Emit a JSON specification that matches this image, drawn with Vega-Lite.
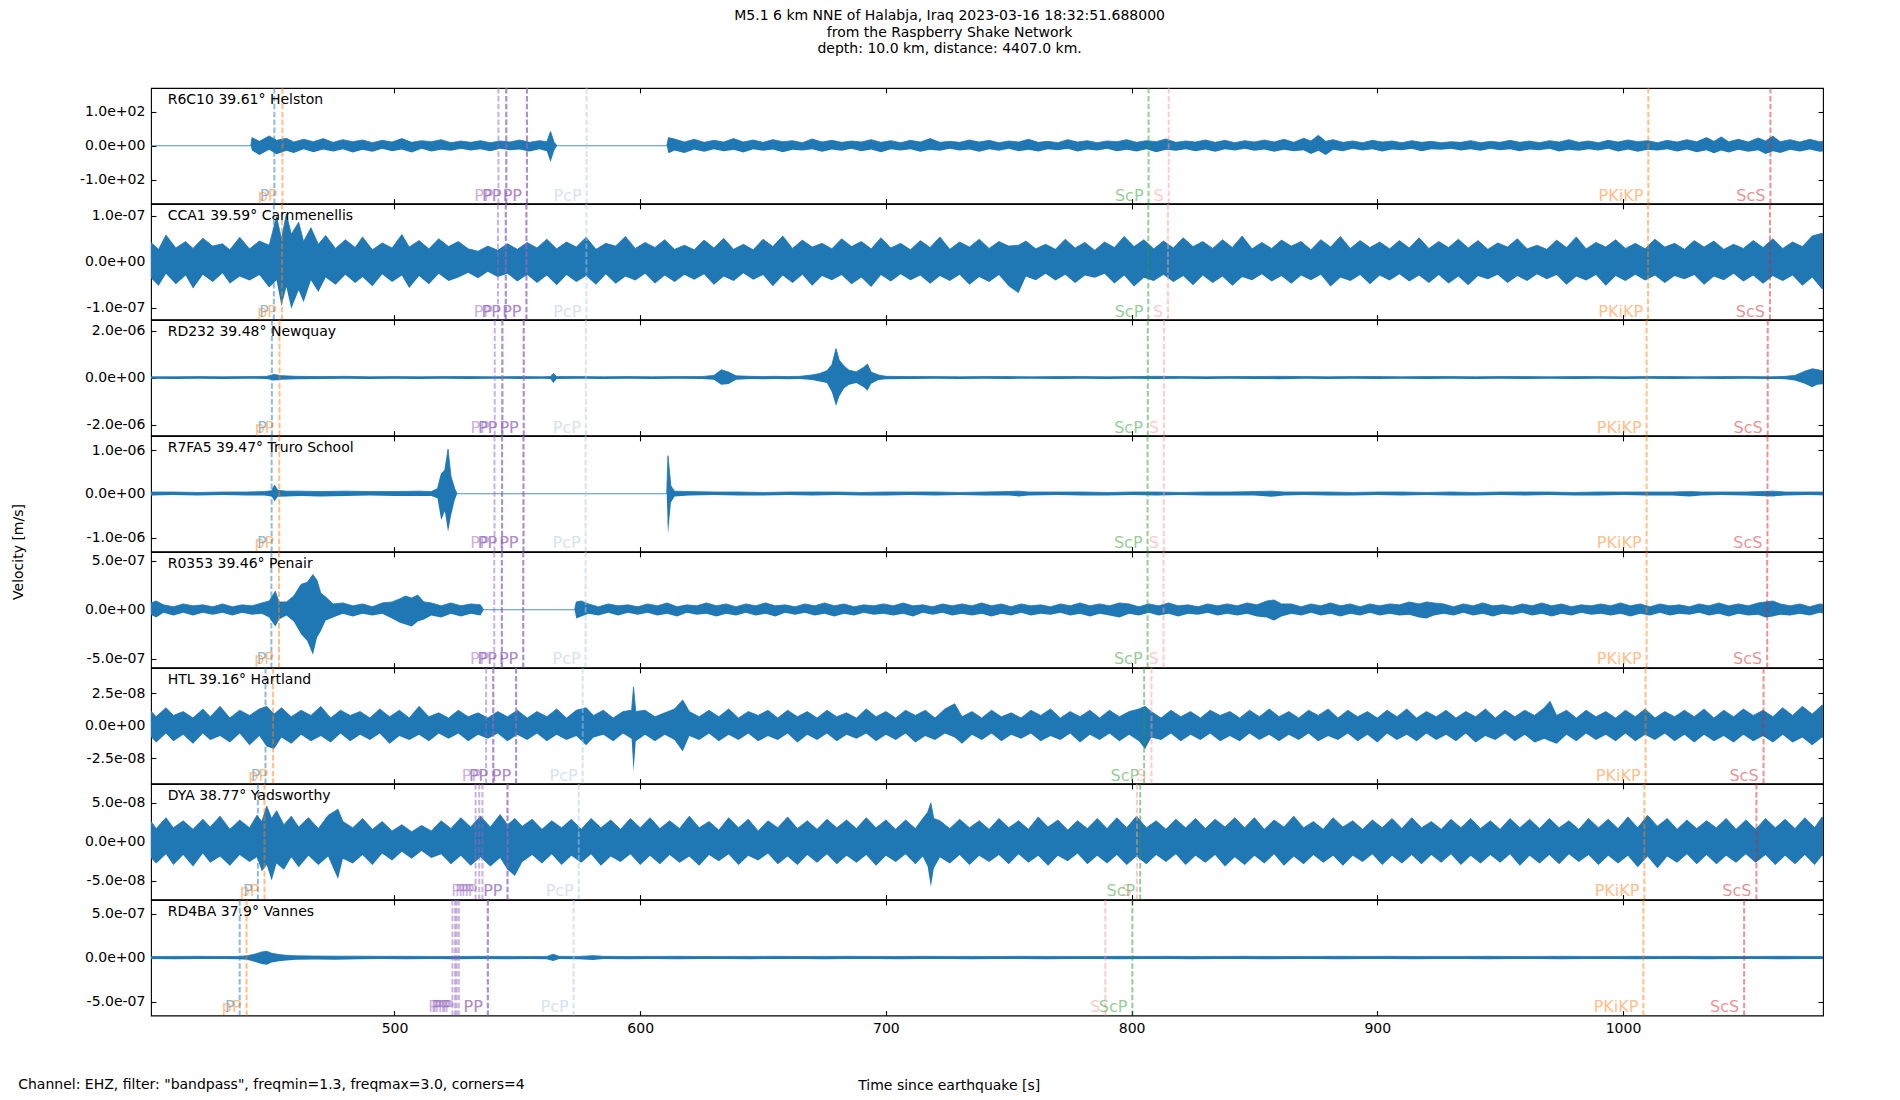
{
  "$schema": "https://vega.github.io/schema/vega-lite/v6.json",
  "padding": {"left": 11, "top": 9, "right": 5, "bottom": 5},
  "config": {
    "font": "DejaVu Sans",
    "view": {"stroke": "black", "strokeWidth": 1.1},
    "axis": {"domain": false, "grid": false, "ticks": true, "tickSize": -4.9, "tickWidth": 1.1, "tickColor": "black", "labelFontSize": 14, "labelColor": "black", "titleFontSize": 14, "titleFontWeight": "normal", "titleColor": "black"},
    "axisX": {"labelPadding": 10.5},
    "axisY": {"labelPadding": 11},
    "title": {"fontSize": 14, "fontWeight": "normal", "color": "black"}
  },
  "title": {
    "text": ["M5.1 6 km NNE of Halabja, Iraq 2023-03-16 18:32:51.688000", "from the Raspberry Shake Network", "depth: 10.0 km, distance: 4407.0 km."],
    "anchor": "middle", "lineHeight": 16.5, "offset": 30, "dx": 32
  },
  "datasets": {
    "ph": [
      {"st":"R6C10","ph":"P","t":451.1},{"st":"R6C10","ph":"pP","t":454.4},{"st":"R6C10","ph":"PP","t":542.3},{"st":"R6C10","ph":"PP","t":545.5},{"st":"R6C10","ph":"PP","t":545.5},{"st":"R6C10","ph":"PP","t":553.9},{"st":"R6C10","ph":"PP","t":553.9},{"st":"R6C10","ph":"PcP","t":578.2},{"st":"R6C10","ph":"ScP","t":806.9},{"st":"R6C10","ph":"S","t":815.1},{"st":"R6C10","ph":"PKiKP","t":1010.3},{"st":"R6C10","ph":"ScS","t":1060.0},
      {"st":"CCA1","ph":"P","t":450.9},{"st":"CCA1","ph":"pP","t":454.2},{"st":"CCA1","ph":"PP","t":542.1},{"st":"CCA1","ph":"PP","t":545.3},{"st":"CCA1","ph":"PP","t":545.3},{"st":"CCA1","ph":"PP","t":553.7},{"st":"CCA1","ph":"PP","t":553.7},{"st":"CCA1","ph":"PcP","t":578.1},{"st":"CCA1","ph":"ScP","t":806.8},{"st":"CCA1","ph":"S","t":814.8},{"st":"CCA1","ph":"PKiKP","t":1010.2},{"st":"CCA1","ph":"ScS","t":1059.8},
      {"st":"RD232","ph":"P","t":450.1},{"st":"RD232","ph":"pP","t":453.2},{"st":"RD232","ph":"PP","t":540.8},{"st":"RD232","ph":"PP","t":543.9},{"st":"RD232","ph":"PP","t":543.9},{"st":"RD232","ph":"PP","t":552.6},{"st":"RD232","ph":"PP","t":552.6},{"st":"RD232","ph":"PcP","t":577.9},{"st":"RD232","ph":"ScP","t":806.6},{"st":"RD232","ph":"S","t":813.2},{"st":"RD232","ph":"PKiKP","t":1009.6},{"st":"RD232","ph":"ScS","t":1058.9},
      {"st":"R7FA5","ph":"P","t":450.0},{"st":"R7FA5","ph":"pP","t":453.1},{"st":"R7FA5","ph":"PP","t":540.7},{"st":"R7FA5","ph":"PP","t":543.8},{"st":"R7FA5","ph":"PP","t":543.8},{"st":"R7FA5","ph":"PP","t":552.5},{"st":"R7FA5","ph":"PP","t":552.5},{"st":"R7FA5","ph":"PcP","t":577.8},{"st":"R7FA5","ph":"ScP","t":806.5},{"st":"R7FA5","ph":"S","t":813.1},{"st":"R7FA5","ph":"PKiKP","t":1009.6},{"st":"R7FA5","ph":"ScS","t":1058.8},
      {"st":"R0353","ph":"P","t":449.9},{"st":"R0353","ph":"pP","t":453.0},{"st":"R0353","ph":"PP","t":540.6},{"st":"R0353","ph":"PP","t":543.7},{"st":"R0353","ph":"PP","t":543.7},{"st":"R0353","ph":"PP","t":552.4},{"st":"R0353","ph":"PP","t":552.4},{"st":"R0353","ph":"PcP","t":577.8},{"st":"R0353","ph":"ScP","t":806.5},{"st":"R0353","ph":"S","t":813.0},{"st":"R0353","ph":"PKiKP","t":1009.6},{"st":"R0353","ph":"ScS","t":1058.7},
      {"st":"HTL","ph":"P","t":447.5},{"st":"HTL","ph":"pP","t":450.6},{"st":"HTL","ph":"PP","t":537.3},{"st":"HTL","ph":"PP","t":540.2},{"st":"HTL","ph":"PP","t":540.2},{"st":"HTL","ph":"PP","t":549.5},{"st":"HTL","ph":"PP","t":549.5},{"st":"HTL","ph":"PcP","t":576.6},{"st":"HTL","ph":"ScP","t":805.1},{"st":"HTL","ph":"S","t":808.1},{"st":"HTL","ph":"PKiKP","t":1009.2},{"st":"HTL","ph":"ScS","t":1057.2},
      {"st":"DYA","ph":"P","t":444.4},{"st":"DYA","ph":"pP","t":447.1},{"st":"DYA","ph":"PP","t":533.0},{"st":"DYA","ph":"PP","t":534.5},{"st":"DYA","ph":"PP","t":535.8},{"st":"DYA","ph":"PP","t":546.0},{"st":"DYA","ph":"PP","t":546.0},{"st":"DYA","ph":"PcP","t":575.0},{"st":"DYA","ph":"S","t":802.2},{"st":"DYA","ph":"ScP","t":803.5},{"st":"DYA","ph":"PKiKP","t":1008.7},{"st":"DYA","ph":"ScS","t":1054.3},
      {"st":"RD4BA","ph":"P","t":437.0},{"st":"RD4BA","ph":"pP","t":439.8},{"st":"RD4BA","ph":"PP","t":523.6},{"st":"RD4BA","ph":"PP","t":524.7},{"st":"RD4BA","ph":"PP","t":525.3},{"st":"RD4BA","ph":"PP","t":526.2},{"st":"RD4BA","ph":"PP","t":538.0},{"st":"RD4BA","ph":"PP","t":538.0},{"st":"RD4BA","ph":"PcP","t":572.9},{"st":"RD4BA","ph":"S","t":789.3},{"st":"RD4BA","ph":"ScP","t":800.3},{"st":"RD4BA","ph":"PKiKP","t":1008.3},{"st":"RD4BA","ph":"ScS","t":1049.3}
    ],
    "w1": [
      {"t":400,"l":0,"h":0},{"t":441.5,"l":0,"h":0},{"t":442,"l":-14,"h":24},{"t":445,"l":-27,"h":13},{"t":449,"l":-12,"h":29},{"t":452,"l":-25,"h":16},{"t":456,"l":-15,"h":22},{"t":459,"l":-21,"h":11},{"t":463,"l":-10,"h":19},{"t":467,"l":-19,"h":12},{"t":471,"l":-11,"h":21},{"t":475,"l":-17,"h":10},{"t":479,"l":-10,"h":18},{"t":483,"l":-20,"h":12},{"t":487,"l":-12,"h":17},{"t":491,"l":-18,"h":9},{"t":495,"l":-9,"h":16},{"t":499,"l":-16,"h":11},{"t":503,"l":-11,"h":21},{"t":507,"l":-20,"h":10},{"t":511,"l":-9,"h":15},{"t":515,"l":-17,"h":12},{"t":519,"l":-12,"h":18},{"t":523,"l":-15,"h":9},{"t":527,"l":-9,"h":14},{"t":531,"l":-14,"h":10},{"t":535,"l":-10,"h":15},{"t":539,"l":-16,"h":9},{"t":543,"l":-9,"h":14},{"t":547,"l":-13,"h":11},{"t":551,"l":-11,"h":17},{"t":555,"l":-17,"h":10},{"t":559,"l":-10,"h":15},{"t":562,"l":-16,"h":12},{"t":563.5,"l":-48,"h":42},{"t":565,"l":-14,"h":10},{"t":566.2,"l":0,"h":0},{"t":610.8,"l":0,"h":0},{"t":611.5,"l":-22,"h":24},{"t":614,"l":-14,"h":20},{"t":618,"l":-21,"h":11},{"t":622,"l":-11,"h":19},{"t":626,"l":-18,"h":10},{"t":630,"l":-10,"h":16},{"t":634,"l":-16,"h":11},{"t":638,"l":-12,"h":21},{"t":642,"l":-20,"h":11},{"t":646,"l":-10,"h":17},{"t":650,"l":-15,"h":10},{"t":654,"l":-11,"h":18},{"t":658,"l":-19,"h":12},{"t":662,"l":-12,"h":15},{"t":666,"l":-14,"h":9},{"t":670,"l":-10,"h":20},{"t":674,"l":-18,"h":11},{"t":678,"l":-11,"h":16},{"t":682,"l":-15,"h":10},{"t":686,"l":-9,"h":14},{"t":690,"l":-16,"h":11},{"t":694,"l":-11,"h":18},{"t":698,"l":-19,"h":10},{"t":702,"l":-10,"h":15},{"t":706,"l":-14,"h":9},{"t":710,"l":-10,"h":16},{"t":714,"l":-18,"h":11},{"t":718,"l":-12,"h":21},{"t":722,"l":-15,"h":10},{"t":726,"l":-9,"h":13},{"t":730,"l":-14,"h":10},{"t":734,"l":-11,"h":17},{"t":738,"l":-18,"h":11},{"t":742,"l":-10,"h":16},{"t":746,"l":-15,"h":9},{"t":750,"l":-9,"h":14},{"t":754,"l":-16,"h":11},{"t":758,"l":-12,"h":19},{"t":762,"l":-17,"h":10},{"t":766,"l":-10,"h":13},{"t":770,"l":-13,"h":9},{"t":774,"l":-9,"h":18},{"t":778,"l":-17,"h":11},{"t":782,"l":-11,"h":15},{"t":786,"l":-14,"h":9},{"t":790,"l":-9,"h":14},{"t":794,"l":-16,"h":12},{"t":798,"l":-12,"h":18},{"t":802,"l":-17,"h":10},{"t":806,"l":-10,"h":15},{"t":810,"l":-19,"h":12},{"t":814,"l":-12,"h":20},{"t":818,"l":-15,"h":10},{"t":822,"l":-10,"h":14},{"t":826,"l":-16,"h":11},{"t":830,"l":-11,"h":17},{"t":834,"l":-18,"h":10},{"t":838,"l":-10,"h":16},{"t":842,"l":-14,"h":9},{"t":846,"l":-9,"h":15},{"t":850,"l":-15,"h":11},{"t":854,"l":-11,"h":17},{"t":858,"l":-18,"h":11},{"t":862,"l":-12,"h":19},{"t":866,"l":-16,"h":10},{"t":870,"l":-13,"h":22},{"t":873,"l":-24,"h":14},{"t":876,"l":-15,"h":31},{"t":879,"l":-27,"h":13},{"t":882,"l":-12,"h":18},{"t":886,"l":-16,"h":10},{"t":890,"l":-9,"h":14},{"t":894,"l":-14,"h":9},{"t":898,"l":-10,"h":16},{"t":902,"l":-17,"h":11},{"t":906,"l":-11,"h":14},{"t":910,"l":-13,"h":9},{"t":914,"l":-9,"h":15},{"t":918,"l":-16,"h":10},{"t":922,"l":-10,"h":13},{"t":926,"l":-12,"h":9},{"t":930,"l":-9,"h":12},{"t":934,"l":-14,"h":10},{"t":938,"l":-10,"h":15},{"t":942,"l":-15,"h":9},{"t":946,"l":-9,"h":13},{"t":950,"l":-13,"h":10},{"t":954,"l":-10,"h":16},{"t":958,"l":-16,"h":10},{"t":962,"l":-11,"h":14},{"t":966,"l":-13,"h":9},{"t":970,"l":-9,"h":15},{"t":974,"l":-17,"h":11},{"t":978,"l":-12,"h":18},{"t":982,"l":-15,"h":10},{"t":986,"l":-10,"h":14},{"t":990,"l":-14,"h":9},{"t":994,"l":-9,"h":16},{"t":998,"l":-17,"h":11},{"t":1002,"l":-11,"h":17},{"t":1006,"l":-18,"h":12},{"t":1010,"l":-12,"h":15},{"t":1014,"l":-14,"h":9},{"t":1018,"l":-10,"h":16},{"t":1022,"l":-17,"h":11},{"t":1026,"l":-11,"h":18},{"t":1030,"l":-19,"h":12},{"t":1034,"l":-13,"h":24},{"t":1037,"l":-22,"h":13},{"t":1040,"l":-14,"h":26},{"t":1043,"l":-20,"h":12},{"t":1047,"l":-12,"h":19},{"t":1051,"l":-18,"h":11},{"t":1055,"l":-13,"h":23},{"t":1058,"l":-24,"h":14},{"t":1061,"l":-16,"h":28},{"t":1064,"l":-21,"h":12},{"t":1068,"l":-12,"h":18},{"t":1072,"l":-17,"h":11},{"t":1076,"l":-11,"h":19},{"t":1080,"l":-18,"h":12},{"t":1085,"l":-13,"h":17}
    ],
    "w2": [
      {"t":400,"l":-3.1e-8,"h":4.6e-8},{"t":404,"l":-5.2e-8,"h":2.7e-8},{"t":407,"l":-2.6e-8,"h":5.8e-8},{"t":411,"l":-4.9e-8,"h":3.0e-8},{"t":415,"l":-3.0e-8,"h":4.4e-8},{"t":418,"l":-5.8e-8,"h":2.9e-8},{"t":422,"l":-2.8e-8,"h":5.1e-8},{"t":426,"l":-4.4e-8,"h":3.4e-8},{"t":430,"l":-2.5e-8,"h":3.9e-8},{"t":433,"l":-4.7e-8,"h":2.6e-8},{"t":437,"l":-3.2e-8,"h":5.3e-8},{"t":441,"l":-4.1e-8,"h":2.8e-8},{"t":445,"l":-2.9e-8,"h":4.5e-8},{"t":449,"l":-5.6e-8,"h":3.6e-8},{"t":452,"l":-4.0e-8,"h":9.8e-8},{"t":454,"l":-9.6e-8,"h":5.0e-8},{"t":456,"l":-5.5e-8,"h":10.4e-8},{"t":458,"l":-10.2e-8,"h":6.0e-8},{"t":461,"l":-6.2e-8,"h":8.6e-8},{"t":463,"l":-8.8e-8,"h":4.4e-8},{"t":466,"l":-4.0e-8,"h":7.4e-8},{"t":469,"l":-6.6e-8,"h":3.8e-8},{"t":472,"l":-3.4e-8,"h":5.7e-8},{"t":476,"l":-5.0e-8,"h":2.9e-8},{"t":480,"l":-2.8e-8,"h":4.8e-8},{"t":484,"l":-4.6e-8,"h":3.1e-8},{"t":487,"l":-3.3e-8,"h":5.4e-8},{"t":491,"l":-5.3e-8,"h":2.6e-8},{"t":495,"l":-2.7e-8,"h":4.1e-8},{"t":499,"l":-4.4e-8,"h":3.0e-8},{"t":503,"l":-3.0e-8,"h":5.9e-8},{"t":506,"l":-5.7e-8,"h":3.2e-8},{"t":510,"l":-3.1e-8,"h":4.6e-8},{"t":514,"l":-4.9e-8,"h":2.8e-8},{"t":518,"l":-2.6e-8,"h":5.0e-8},{"t":522,"l":-4.2e-8,"h":3.3e-8},{"t":526,"l":-3.4e-8,"h":4.4e-8},{"t":530,"l":-2.4e-8,"h":2.8e-8},{"t":534,"l":-3.6e-8,"h":2.3e-8},{"t":538,"l":-2.2e-8,"h":3.4e-8},{"t":542,"l":-3.3e-8,"h":2.5e-8},{"t":546,"l":-2.6e-8,"h":3.9e-8},{"t":550,"l":-4.3e-8,"h":2.7e-8},{"t":554,"l":-2.8e-8,"h":4.2e-8},{"t":558,"l":-4.6e-8,"h":3.0e-8},{"t":562,"l":-3.0e-8,"h":4.9e-8},{"t":566,"l":-5.1e-8,"h":2.8e-8},{"t":570,"l":-2.9e-8,"h":4.3e-8},{"t":574,"l":-4.4e-8,"h":3.2e-8},{"t":578,"l":-3.1e-8,"h":5.3e-8},{"t":582,"l":-5.0e-8,"h":2.7e-8},{"t":586,"l":-2.7e-8,"h":4.0e-8},{"t":590,"l":-4.8e-8,"h":3.4e-8},{"t":594,"l":-3.2e-8,"h":5.5e-8},{"t":598,"l":-4.1e-8,"h":2.9e-8},{"t":602,"l":-2.6e-8,"h":4.2e-8},{"t":606,"l":-4.7e-8,"h":3.1e-8},{"t":610,"l":-3.0e-8,"h":4.8e-8},{"t":614,"l":-4.4e-8,"h":2.7e-8},{"t":618,"l":-2.8e-8,"h":3.6e-8},{"t":622,"l":-3.9e-8,"h":2.6e-8},{"t":626,"l":-2.7e-8,"h":4.7e-8},{"t":630,"l":-5.0e-8,"h":3.0e-8},{"t":634,"l":-3.2e-8,"h":5.1e-8},{"t":638,"l":-4.2e-8,"h":2.7e-8},{"t":642,"l":-2.5e-8,"h":3.8e-8},{"t":646,"l":-3.9e-8,"h":2.6e-8},{"t":650,"l":-2.9e-8,"h":4.9e-8},{"t":654,"l":-5.3e-8,"h":3.3e-8},{"t":658,"l":-3.0e-8,"h":5.6e-8},{"t":662,"l":-4.6e-8,"h":2.9e-8},{"t":666,"l":-2.8e-8,"h":4.7e-8},{"t":670,"l":-5.2e-8,"h":3.2e-8},{"t":674,"l":-3.1e-8,"h":4.0e-8},{"t":678,"l":-4.0e-8,"h":2.8e-8},{"t":682,"l":-2.9e-8,"h":5.0e-8},{"t":686,"l":-4.9e-8,"h":3.3e-8},{"t":690,"l":-3.4e-8,"h":4.4e-8},{"t":694,"l":-5.5e-8,"h":2.8e-8},{"t":698,"l":-2.9e-8,"h":5.2e-8},{"t":702,"l":-4.3e-8,"h":3.0e-8},{"t":706,"l":-2.7e-8,"h":4.0e-8},{"t":710,"l":-4.0e-8,"h":2.6e-8},{"t":714,"l":-3.0e-8,"h":4.6e-8},{"t":718,"l":-4.8e-8,"h":3.1e-8},{"t":722,"l":-3.1e-8,"h":5.4e-8},{"t":726,"l":-4.2e-8,"h":2.7e-8},{"t":730,"l":-2.8e-8,"h":4.3e-8},{"t":734,"l":-5.0e-8,"h":3.2e-8},{"t":738,"l":-3.3e-8,"h":4.9e-8},{"t":742,"l":-4.4e-8,"h":2.9e-8},{"t":746,"l":-2.9e-8,"h":4.4e-8},{"t":750,"l":-5.3e-8,"h":3.4e-8},{"t":754,"l":-6.8e-8,"h":3.6e-8},{"t":757,"l":-3.2e-8,"h":4.5e-8},{"t":761,"l":-4.0e-8,"h":2.8e-8},{"t":765,"l":-2.6e-8,"h":3.8e-8},{"t":769,"l":-4.1e-8,"h":2.7e-8},{"t":773,"l":-2.8e-8,"h":4.9e-8},{"t":777,"l":-4.6e-8,"h":3.0e-8},{"t":781,"l":-3.0e-8,"h":4.2e-8},{"t":785,"l":-3.5e-8,"h":2.5e-8},{"t":789,"l":-2.6e-8,"h":4.3e-8},{"t":793,"l":-4.7e-8,"h":3.1e-8},{"t":797,"l":-3.0e-8,"h":5.5e-8},{"t":801,"l":-5.4e-8,"h":3.3e-8},{"t":805,"l":-3.5e-8,"h":4.8e-8},{"t":809,"l":-4.2e-8,"h":2.8e-8},{"t":813,"l":-2.8e-8,"h":4.5e-8},{"t":817,"l":-4.4e-8,"h":3.0e-8},{"t":821,"l":-3.1e-8,"h":5.2e-8},{"t":825,"l":-5.1e-8,"h":3.3e-8},{"t":829,"l":-3.0e-8,"h":4.4e-8},{"t":833,"l":-4.6e-8,"h":2.9e-8},{"t":837,"l":-3.2e-8,"h":4.8e-8},{"t":841,"l":-5.2e-8,"h":3.1e-8},{"t":845,"l":-3.3e-8,"h":5.6e-8},{"t":849,"l":-4.0e-8,"h":2.8e-8},{"t":853,"l":-2.7e-8,"h":4.2e-8},{"t":857,"l":-4.3e-8,"h":2.9e-8},{"t":861,"l":-3.1e-8,"h":4.7e-8},{"t":865,"l":-4.8e-8,"h":3.4e-8},{"t":869,"l":-3.0e-8,"h":4.4e-8},{"t":873,"l":-4.0e-8,"h":2.6e-8},{"t":877,"l":-2.8e-8,"h":4.8e-8},{"t":881,"l":-5.4e-8,"h":3.2e-8},{"t":885,"l":-3.4e-8,"h":5.5e-8},{"t":889,"l":-4.2e-8,"h":2.9e-8},{"t":893,"l":-2.9e-8,"h":4.6e-8},{"t":897,"l":-4.9e-8,"h":3.1e-8},{"t":901,"l":-3.0e-8,"h":4.3e-8},{"t":905,"l":-4.1e-8,"h":2.8e-8},{"t":909,"l":-2.7e-8,"h":4.6e-8},{"t":913,"l":-4.3e-8,"h":3.0e-8},{"t":917,"l":-3.0e-8,"h":5.2e-8},{"t":921,"l":-4.6e-8,"h":2.9e-8},{"t":925,"l":-2.9e-8,"h":4.4e-8},{"t":929,"l":-4.7e-8,"h":3.1e-8},{"t":933,"l":-3.2e-8,"h":4.9e-8},{"t":937,"l":-5.1e-8,"h":3.0e-8},{"t":941,"l":-3.1e-8,"h":4.6e-8},{"t":945,"l":-3.8e-8,"h":2.7e-8},{"t":949,"l":-2.8e-8,"h":4.1e-8},{"t":953,"l":-4.6e-8,"h":3.2e-8},{"t":957,"l":-3.1e-8,"h":5.0e-8},{"t":961,"l":-4.2e-8,"h":2.8e-8},{"t":965,"l":-2.7e-8,"h":3.6e-8},{"t":969,"l":-3.8e-8,"h":2.7e-8},{"t":973,"l":-2.9e-8,"h":4.7e-8},{"t":977,"l":-5.0e-8,"h":3.1e-8},{"t":981,"l":-3.2e-8,"h":5.4e-8},{"t":985,"l":-4.1e-8,"h":2.8e-8},{"t":989,"l":-2.9e-8,"h":4.2e-8},{"t":993,"l":-5.2e-8,"h":3.2e-8},{"t":997,"l":-3.1e-8,"h":4.8e-8},{"t":1001,"l":-4.2e-8,"h":2.9e-8},{"t":1005,"l":-2.8e-8,"h":4.0e-8},{"t":1009,"l":-4.1e-8,"h":2.8e-8},{"t":1013,"l":-3.0e-8,"h":4.9e-8},{"t":1017,"l":-4.6e-8,"h":3.2e-8},{"t":1021,"l":-3.1e-8,"h":4.0e-8},{"t":1025,"l":-3.8e-8,"h":2.7e-8},{"t":1029,"l":-2.9e-8,"h":4.6e-8},{"t":1033,"l":-5.0e-8,"h":3.2e-8},{"t":1037,"l":-3.2e-8,"h":4.5e-8},{"t":1041,"l":-4.0e-8,"h":2.7e-8},{"t":1045,"l":-2.6e-8,"h":3.8e-8},{"t":1049,"l":-4.3e-8,"h":2.9e-8},{"t":1053,"l":-3.0e-8,"h":4.6e-8},{"t":1057,"l":-4.8e-8,"h":3.1e-8},{"t":1061,"l":-3.1e-8,"h":5.0e-8},{"t":1065,"l":-4.2e-8,"h":2.9e-8},{"t":1069,"l":-3.0e-8,"h":4.3e-8},{"t":1073,"l":-5.2e-8,"h":3.3e-8},{"t":1077,"l":-3.4e-8,"h":5.6e-8},{"t":1081,"l":-6.0e-8,"h":6.2e-8},{"t":1085,"l":-4.0e-8,"h":4.5e-8}
    ],
    "w3": [
      {"t":400,"l":-4e-8,"h":4e-8},{"t":410,"l":-5e-8,"h":4e-8},{"t":420,"l":-4e-8,"h":5e-8},{"t":430,"l":-5e-8,"h":4e-8},{"t":440,"l":-4e-8,"h":5e-8},{"t":448,"l":-5e-8,"h":6e-8},{"t":451,"l":-12e-8,"h":14e-8},{"t":454,"l":-8e-8,"h":9e-8},{"t":460,"l":-6e-8,"h":6e-8},{"t":470,"l":-5e-8,"h":5e-8},{"t":480,"l":-4e-8,"h":6e-8},{"t":490,"l":-5e-8,"h":4e-8},{"t":500,"l":-4e-8,"h":5e-8},{"t":510,"l":-5e-8,"h":4e-8},{"t":520,"l":-4e-8,"h":5e-8},{"t":530,"l":-5e-8,"h":5e-8},{"t":540,"l":-4e-8,"h":4e-8},{"t":550,"l":-5e-8,"h":5e-8},{"t":560,"l":-4e-8,"h":4e-8},{"t":563.5,"l":-5e-8,"h":5e-8},{"t":564.6,"l":-22e-8,"h":18e-8},{"t":566,"l":-5e-8,"h":5e-8},{"t":575,"l":-4e-8,"h":5e-8},{"t":585,"l":-5e-8,"h":4e-8},{"t":595,"l":-4e-8,"h":5e-8},{"t":605,"l":-5e-8,"h":4e-8},{"t":615,"l":-4e-8,"h":5e-8},{"t":625,"l":-5e-8,"h":5e-8},{"t":630,"l":-8e-8,"h":10e-8},{"t":633,"l":-30e-8,"h":34e-8},{"t":636,"l":-26e-8,"h":24e-8},{"t":639,"l":-8e-8,"h":8e-8},{"t":645,"l":-5e-8,"h":6e-8},{"t":650,"l":-6e-8,"h":5e-8},{"t":655,"l":-5e-8,"h":6e-8},{"t":660,"l":-6e-8,"h":5e-8},{"t":665,"l":-5e-8,"h":6e-8},{"t":670,"l":-10e-8,"h":12e-8},{"t":673,"l":-16e-8,"h":18e-8},{"t":676,"l":-22e-8,"h":30e-8},{"t":678,"l":-60e-8,"h":55e-8},{"t":679.7,"l":-120e-8,"h":124e-8},{"t":681,"l":-80e-8,"h":75e-8},{"t":683,"l":-45e-8,"h":50e-8},{"t":685,"l":-30e-8,"h":32e-8},{"t":688,"l":-22e-8,"h":25e-8},{"t":691,"l":-40e-8,"h":45e-8},{"t":692.5,"l":-55e-8,"h":58e-8},{"t":694,"l":-25e-8,"h":24e-8},{"t":697,"l":-10e-8,"h":12e-8},{"t":700,"l":-6e-8,"h":6e-8},{"t":710,"l":-5e-8,"h":5e-8},{"t":720,"l":-4e-8,"h":5e-8},{"t":730,"l":-5e-8,"h":4e-8},{"t":740,"l":-4e-8,"h":5e-8},{"t":750,"l":-5e-8,"h":5e-8},{"t":760,"l":-4e-8,"h":4e-8},{"t":770,"l":-5e-8,"h":5e-8},{"t":780,"l":-4e-8,"h":5e-8},{"t":790,"l":-5e-8,"h":4e-8},{"t":800,"l":-4e-8,"h":5e-8},{"t":810,"l":-5e-8,"h":6e-8},{"t":820,"l":-4e-8,"h":5e-8},{"t":830,"l":-5e-8,"h":4e-8},{"t":840,"l":-4e-8,"h":5e-8},{"t":850,"l":-5e-8,"h":5e-8},{"t":860,"l":-6e-8,"h":6e-8},{"t":870,"l":-4e-8,"h":5e-8},{"t":880,"l":-5e-8,"h":4e-8},{"t":890,"l":-4e-8,"h":5e-8},{"t":900,"l":-5e-8,"h":5e-8},{"t":910,"l":-4e-8,"h":4e-8},{"t":920,"l":-5e-8,"h":5e-8},{"t":930,"l":-4e-8,"h":5e-8},{"t":940,"l":-5e-8,"h":4e-8},{"t":950,"l":-4e-8,"h":5e-8},{"t":960,"l":-5e-8,"h":5e-8},{"t":970,"l":-4e-8,"h":4e-8},{"t":980,"l":-5e-8,"h":5e-8},{"t":990,"l":-4e-8,"h":5e-8},{"t":1000,"l":-5e-8,"h":4e-8},{"t":1010,"l":-4e-8,"h":5e-8},{"t":1020,"l":-5e-8,"h":5e-8},{"t":1030,"l":-4e-8,"h":4e-8},{"t":1040,"l":-5e-8,"h":5e-8},{"t":1050,"l":-4e-8,"h":5e-8},{"t":1060,"l":-5e-8,"h":4e-8},{"t":1066,"l":-6e-8,"h":6e-8},{"t":1070,"l":-12e-8,"h":10e-8},{"t":1074,"l":-25e-8,"h":28e-8},{"t":1077,"l":-40e-8,"h":38e-8},{"t":1079,"l":-30e-8,"h":35e-8},{"t":1081,"l":-28e-8,"h":30e-8},{"t":1085,"l":-20e-8,"h":22e-8}
    ],
    "w4": [
      {"t":400,"l":-4e-8,"h":4e-8},{"t":410,"l":-3e-8,"h":4e-8},{"t":420,"l":-4e-8,"h":3e-8},{"t":430,"l":-3e-8,"h":4e-8},{"t":440,"l":-4e-8,"h":4e-8},{"t":447,"l":-4e-8,"h":5e-8},{"t":450,"l":-6e-8,"h":7e-8},{"t":451.2,"l":-17e-8,"h":20e-8},{"t":452.5,"l":-7e-8,"h":8e-8},{"t":456,"l":-6e-8,"h":6e-8},{"t":462,"l":-5e-8,"h":6e-8},{"t":470,"l":-6e-8,"h":5e-8},{"t":480,"l":-5e-8,"h":6e-8},{"t":490,"l":-4e-8,"h":5e-8},{"t":500,"l":-5e-8,"h":5e-8},{"t":510,"l":-5e-8,"h":6e-8},{"t":515,"l":-5e-8,"h":5e-8},{"t":517.5,"l":-10e-8,"h":12e-8},{"t":519,"l":-60e-8,"h":45e-8},{"t":520.5,"l":-40e-8,"h":55e-8},{"t":521.8,"l":-87e-8,"h":102e-8},{"t":523,"l":-50e-8,"h":40e-8},{"t":524.5,"l":-15e-8,"h":12e-8},{"t":525.5,"l":0,"h":0},{"t":610.8,"l":0,"h":0},{"t":611.3,"l":-92e-8,"h":87e-8},{"t":612.5,"l":-20e-8,"h":18e-8},{"t":614,"l":-6e-8,"h":6e-8},{"t":620,"l":-4e-8,"h":5e-8},{"t":630,"l":-3e-8,"h":4e-8},{"t":640,"l":-4e-8,"h":4e-8},{"t":650,"l":-4e-8,"h":3e-8},{"t":660,"l":-3e-8,"h":4e-8},{"t":670,"l":-4e-8,"h":4e-8},{"t":680,"l":-3e-8,"h":4e-8},{"t":690,"l":-4e-8,"h":3e-8},{"t":700,"l":-4e-8,"h":4e-8},{"t":710,"l":-3e-8,"h":4e-8},{"t":720,"l":-4e-8,"h":4e-8},{"t":730,"l":-3e-8,"h":3e-8},{"t":740,"l":-4e-8,"h":4e-8},{"t":750,"l":-4e-8,"h":5e-8},{"t":754,"l":-6e-8,"h":6e-8},{"t":758,"l":-4e-8,"h":4e-8},{"t":770,"l":-3e-8,"h":4e-8},{"t":780,"l":-4e-8,"h":4e-8},{"t":790,"l":-4e-8,"h":3e-8},{"t":800,"l":-3e-8,"h":4e-8},{"t":810,"l":-4e-8,"h":4e-8},{"t":820,"l":-3e-8,"h":3e-8},{"t":830,"l":-4e-8,"h":4e-8},{"t":840,"l":-4e-8,"h":4e-8},{"t":850,"l":-4e-8,"h":5e-8},{"t":857,"l":-7e-8,"h":6e-8},{"t":862,"l":-4e-8,"h":4e-8},{"t":870,"l":-3e-8,"h":4e-8},{"t":880,"l":-4e-8,"h":4e-8},{"t":890,"l":-4e-8,"h":3e-8},{"t":900,"l":-3e-8,"h":4e-8},{"t":910,"l":-4e-8,"h":4e-8},{"t":920,"l":-3e-8,"h":3e-8},{"t":930,"l":-4e-8,"h":4e-8},{"t":940,"l":-4e-8,"h":3e-8},{"t":950,"l":-3e-8,"h":4e-8},{"t":960,"l":-4e-8,"h":4e-8},{"t":970,"l":-3e-8,"h":4e-8},{"t":980,"l":-4e-8,"h":3e-8},{"t":990,"l":-4e-8,"h":4e-8},{"t":1000,"l":-3e-8,"h":4e-8},{"t":1010,"l":-4e-8,"h":4e-8},{"t":1020,"l":-4e-8,"h":4e-8},{"t":1027,"l":-6e-8,"h":5e-8},{"t":1032,"l":-4e-8,"h":4e-8},{"t":1040,"l":-3e-8,"h":4e-8},{"t":1050,"l":-4e-8,"h":4e-8},{"t":1061,"l":-6e-8,"h":6e-8},{"t":1066,"l":-4e-8,"h":4e-8},{"t":1075,"l":-3e-8,"h":4e-8},{"t":1085,"l":-4e-8,"h":4e-8}
    ],
    "w5": [
      {"t":400,"l":-4e-8,"h":6e-8},{"t":403,"l":-8e-8,"h":9e-8},{"t":406,"l":-3e-8,"h":5e-8},{"t":410,"l":-6e-8,"h":3e-8},{"t":414,"l":-3e-8,"h":6e-8},{"t":418,"l":-6e-8,"h":4e-8},{"t":422,"l":-3e-8,"h":5e-8},{"t":426,"l":-5e-8,"h":3e-8},{"t":430,"l":-3e-8,"h":6e-8},{"t":434,"l":-6e-8,"h":3e-8},{"t":438,"l":-3e-8,"h":5e-8},{"t":442,"l":-5e-8,"h":4e-8},{"t":446,"l":-4e-8,"h":7e-8},{"t":449,"l":-8e-8,"h":9e-8},{"t":451.5,"l":-17e-8,"h":19e-8},{"t":453,"l":-10e-8,"h":8e-8},{"t":456,"l":-6e-8,"h":8e-8},{"t":459,"l":-12e-8,"h":14e-8},{"t":462,"l":-25e-8,"h":26e-8},{"t":464.5,"l":-32e-8,"h":28e-8},{"t":466.8,"l":-46e-8,"h":36e-8},{"t":468.5,"l":-28e-8,"h":30e-8},{"t":470,"l":-22e-8,"h":17e-8},{"t":472,"l":-11e-8,"h":13e-8},{"t":475,"l":-8e-8,"h":6e-8},{"t":479,"l":-4e-8,"h":7e-8},{"t":483,"l":-7e-8,"h":4e-8},{"t":487,"l":-4e-8,"h":6e-8},{"t":491,"l":-6e-8,"h":3e-8},{"t":495,"l":-4e-8,"h":7e-8},{"t":499,"l":-9e-8,"h":8e-8},{"t":502,"l":-13e-8,"h":11e-8},{"t":504.5,"l":-15e-8,"h":14e-8},{"t":507,"l":-17e-8,"h":12e-8},{"t":509.5,"l":-12e-8,"h":15e-8},{"t":512,"l":-10e-8,"h":8e-8},{"t":515,"l":-6e-8,"h":7e-8},{"t":519,"l":-8e-8,"h":4e-8},{"t":523,"l":-4e-8,"h":7e-8},{"t":527,"l":-7e-8,"h":4e-8},{"t":531,"l":-4e-8,"h":6e-8},{"t":535,"l":-6e-8,"h":5e-8},{"t":536.3,"l":0,"h":0},{"t":573.3,"l":0,"h":0},{"t":574,"l":-9e-8,"h":8e-8},{"t":576,"l":-7e-8,"h":9e-8},{"t":579,"l":-4e-8,"h":6e-8},{"t":583,"l":-6e-8,"h":3e-8},{"t":587,"l":-3e-8,"h":6e-8},{"t":591,"l":-6e-8,"h":4e-8},{"t":595,"l":-3e-8,"h":5e-8},{"t":599,"l":-5e-8,"h":3e-8},{"t":603,"l":-3e-8,"h":6e-8},{"t":607,"l":-6e-8,"h":4e-8},{"t":611,"l":-4e-8,"h":7e-8},{"t":615,"l":-7e-8,"h":3e-8},{"t":619,"l":-3e-8,"h":5e-8},{"t":623,"l":-5e-8,"h":4e-8},{"t":627,"l":-4e-8,"h":7e-8},{"t":631,"l":-7e-8,"h":4e-8},{"t":635,"l":-4e-8,"h":6e-8},{"t":639,"l":-6e-8,"h":3e-8},{"t":643,"l":-3e-8,"h":6e-8},{"t":647,"l":-6e-8,"h":4e-8},{"t":651,"l":-4e-8,"h":7e-8},{"t":655,"l":-7e-8,"h":4e-8},{"t":659,"l":-3e-8,"h":5e-8},{"t":663,"l":-5e-8,"h":3e-8},{"t":667,"l":-3e-8,"h":6e-8},{"t":671,"l":-6e-8,"h":4e-8},{"t":675,"l":-4e-8,"h":7e-8},{"t":679,"l":-7e-8,"h":4e-8},{"t":683,"l":-4e-8,"h":6e-8},{"t":687,"l":-6e-8,"h":3e-8},{"t":691,"l":-3e-8,"h":5e-8},{"t":695,"l":-5e-8,"h":4e-8},{"t":699,"l":-4e-8,"h":6e-8},{"t":703,"l":-6e-8,"h":4e-8},{"t":707,"l":-4e-8,"h":7e-8},{"t":711,"l":-7e-8,"h":4e-8},{"t":715,"l":-3e-8,"h":5e-8},{"t":719,"l":-5e-8,"h":3e-8},{"t":723,"l":-3e-8,"h":6e-8},{"t":727,"l":-6e-8,"h":4e-8},{"t":731,"l":-4e-8,"h":6e-8},{"t":735,"l":-6e-8,"h":4e-8},{"t":739,"l":-4e-8,"h":7e-8},{"t":743,"l":-7e-8,"h":4e-8},{"t":747,"l":-4e-8,"h":6e-8},{"t":751,"l":-6e-8,"h":3e-8},{"t":755,"l":-3e-8,"h":6e-8},{"t":759,"l":-6e-8,"h":4e-8},{"t":763,"l":-4e-8,"h":5e-8},{"t":767,"l":-5e-8,"h":3e-8},{"t":771,"l":-3e-8,"h":6e-8},{"t":775,"l":-6e-8,"h":4e-8},{"t":779,"l":-4e-8,"h":7e-8},{"t":783,"l":-7e-8,"h":4e-8},{"t":787,"l":-4e-8,"h":6e-8},{"t":791,"l":-6e-8,"h":4e-8},{"t":795,"l":-8e-8,"h":7e-8},{"t":799,"l":-4e-8,"h":6e-8},{"t":803,"l":-6e-8,"h":3e-8},{"t":807,"l":-3e-8,"h":6e-8},{"t":811,"l":-6e-8,"h":4e-8},{"t":815,"l":-4e-8,"h":7e-8},{"t":819,"l":-7e-8,"h":4e-8},{"t":823,"l":-4e-8,"h":5e-8},{"t":827,"l":-5e-8,"h":3e-8},{"t":831,"l":-3e-8,"h":6e-8},{"t":835,"l":-6e-8,"h":4e-8},{"t":839,"l":-4e-8,"h":6e-8},{"t":843,"l":-6e-8,"h":4e-8},{"t":847,"l":-4e-8,"h":7e-8},{"t":851,"l":-7e-8,"h":5e-8},{"t":855,"l":-8e-8,"h":9e-8},{"t":858,"l":-11e-8,"h":10e-8},{"t":861,"l":-7e-8,"h":6e-8},{"t":865,"l":-4e-8,"h":6e-8},{"t":869,"l":-6e-8,"h":3e-8},{"t":873,"l":-3e-8,"h":6e-8},{"t":877,"l":-6e-8,"h":4e-8},{"t":881,"l":-4e-8,"h":7e-8},{"t":885,"l":-7e-8,"h":4e-8},{"t":889,"l":-4e-8,"h":6e-8},{"t":893,"l":-6e-8,"h":3e-8},{"t":897,"l":-3e-8,"h":6e-8},{"t":901,"l":-6e-8,"h":4e-8},{"t":905,"l":-4e-8,"h":6e-8},{"t":909,"l":-6e-8,"h":5e-8},{"t":913,"l":-5e-8,"h":8e-8},{"t":917,"l":-8e-8,"h":6e-8},{"t":920,"l":-9e-8,"h":8e-8},{"t":923,"l":-6e-8,"h":7e-8},{"t":927,"l":-4e-8,"h":6e-8},{"t":931,"l":-6e-8,"h":3e-8},{"t":935,"l":-3e-8,"h":6e-8},{"t":939,"l":-6e-8,"h":4e-8},{"t":943,"l":-4e-8,"h":7e-8},{"t":947,"l":-7e-8,"h":4e-8},{"t":951,"l":-4e-8,"h":5e-8},{"t":955,"l":-5e-8,"h":3e-8},{"t":959,"l":-3e-8,"h":6e-8},{"t":963,"l":-6e-8,"h":4e-8},{"t":967,"l":-4e-8,"h":7e-8},{"t":971,"l":-7e-8,"h":4e-8},{"t":975,"l":-4e-8,"h":6e-8},{"t":979,"l":-6e-8,"h":3e-8},{"t":983,"l":-3e-8,"h":5e-8},{"t":987,"l":-5e-8,"h":4e-8},{"t":991,"l":-4e-8,"h":6e-8},{"t":995,"l":-6e-8,"h":4e-8},{"t":999,"l":-4e-8,"h":7e-8},{"t":1003,"l":-7e-8,"h":4e-8},{"t":1007,"l":-4e-8,"h":6e-8},{"t":1011,"l":-6e-8,"h":3e-8},{"t":1015,"l":-3e-8,"h":6e-8},{"t":1019,"l":-6e-8,"h":4e-8},{"t":1023,"l":-4e-8,"h":5e-8},{"t":1027,"l":-5e-8,"h":3e-8},{"t":1031,"l":-3e-8,"h":6e-8},{"t":1035,"l":-6e-8,"h":4e-8},{"t":1039,"l":-4e-8,"h":7e-8},{"t":1043,"l":-7e-8,"h":4e-8},{"t":1047,"l":-4e-8,"h":6e-8},{"t":1051,"l":-6e-8,"h":4e-8},{"t":1055,"l":-5e-8,"h":7e-8},{"t":1058,"l":-8e-8,"h":8e-8},{"t":1061,"l":-7e-8,"h":9e-8},{"t":1064,"l":-5e-8,"h":6e-8},{"t":1068,"l":-6e-8,"h":4e-8},{"t":1072,"l":-4e-8,"h":6e-8},{"t":1076,"l":-6e-8,"h":3e-8},{"t":1080,"l":-3e-8,"h":6e-8},{"t":1085,"l":-6e-8,"h":4e-8}
    ],
    "w6": [
      {"t":400,"l":-7e-9,"h":13e-9},{"t":403,"l":-13e-9,"h":7e-9},{"t":407,"l":-6e-9,"h":14e-9},{"t":410,"l":-12e-9,"h":8e-9},{"t":414,"l":-7e-9,"h":11e-9},{"t":418,"l":-14e-9,"h":6e-9},{"t":422,"l":-6e-9,"h":13e-9},{"t":425,"l":-11e-9,"h":7e-9},{"t":429,"l":-8e-9,"h":15e-9},{"t":433,"l":-13e-9,"h":6e-9},{"t":437,"l":-6e-9,"h":12e-9},{"t":441,"l":-15e-9,"h":8e-9},{"t":445,"l":-8e-9,"h":13e-9},{"t":448,"l":-16e-9,"h":15e-9},{"t":451,"l":-18e-9,"h":9e-9},{"t":454,"l":-9e-9,"h":14e-9},{"t":458,"l":-14e-9,"h":7e-9},{"t":462,"l":-7e-9,"h":12e-9},{"t":466,"l":-12e-9,"h":8e-9},{"t":470,"l":-8e-9,"h":15e-9},{"t":474,"l":-13e-9,"h":6e-9},{"t":478,"l":-6e-9,"h":12e-9},{"t":482,"l":-12e-9,"h":8e-9},{"t":486,"l":-7e-9,"h":11e-9},{"t":490,"l":-11e-9,"h":6e-9},{"t":494,"l":-6e-9,"h":13e-9},{"t":498,"l":-14e-9,"h":7e-9},{"t":502,"l":-8e-9,"h":12e-9},{"t":506,"l":-11e-9,"h":6e-9},{"t":510,"l":-7e-9,"h":15e-9},{"t":514,"l":-12e-9,"h":7e-9},{"t":518,"l":-6e-9,"h":10e-9},{"t":522,"l":-10e-9,"h":6e-9},{"t":526,"l":-6e-9,"h":12e-9},{"t":530,"l":-12e-9,"h":7e-9},{"t":534,"l":-7e-9,"h":10e-9},{"t":538,"l":-10e-9,"h":6e-9},{"t":542,"l":-6e-9,"h":11e-9},{"t":546,"l":-12e-9,"h":7e-9},{"t":550,"l":-7e-9,"h":12e-9},{"t":554,"l":-11e-9,"h":6e-9},{"t":558,"l":-6e-9,"h":11e-9},{"t":562,"l":-12e-9,"h":7e-9},{"t":566,"l":-7e-9,"h":13e-9},{"t":570,"l":-11e-9,"h":6e-9},{"t":574,"l":-8e-9,"h":12e-9},{"t":578,"l":-15e-9,"h":14e-9},{"t":581,"l":-9e-9,"h":8e-9},{"t":585,"l":-7e-9,"h":12e-9},{"t":589,"l":-12e-9,"h":6e-9},{"t":593,"l":-6e-9,"h":11e-9},{"t":596.5,"l":-10e-9,"h":12e-9},{"t":597.3,"l":-35e-9,"h":30e-9},{"t":598.2,"l":-12e-9,"h":11e-9},{"t":602,"l":-7e-9,"h":12e-9},{"t":606,"l":-12e-9,"h":7e-9},{"t":610,"l":-7e-9,"h":10e-9},{"t":614,"l":-11e-9,"h":13e-9},{"t":617.3,"l":-20e-9,"h":20e-9},{"t":620,"l":-8e-9,"h":11e-9},{"t":624,"l":-11e-9,"h":7e-9},{"t":628,"l":-6e-9,"h":12e-9},{"t":632,"l":-12e-9,"h":7e-9},{"t":636,"l":-7e-9,"h":13e-9},{"t":640,"l":-11e-9,"h":6e-9},{"t":644,"l":-6e-9,"h":11e-9},{"t":648,"l":-12e-9,"h":8e-9},{"t":652,"l":-8e-9,"h":12e-9},{"t":656,"l":-11e-9,"h":6e-9},{"t":660,"l":-6e-9,"h":12e-9},{"t":664,"l":-13e-9,"h":7e-9},{"t":668,"l":-7e-9,"h":11e-9},{"t":672,"l":-11e-9,"h":6e-9},{"t":676,"l":-6e-9,"h":12e-9},{"t":680,"l":-12e-9,"h":7e-9},{"t":684,"l":-7e-9,"h":10e-9},{"t":688,"l":-10e-9,"h":6e-9},{"t":692,"l":-6e-9,"h":13e-9},{"t":696,"l":-12e-9,"h":7e-9},{"t":700,"l":-7e-9,"h":11e-9},{"t":704,"l":-11e-9,"h":6e-9},{"t":708,"l":-6e-9,"h":12e-9},{"t":712,"l":-13e-9,"h":8e-9},{"t":716,"l":-8e-9,"h":12e-9},{"t":720,"l":-11e-9,"h":6e-9},{"t":724,"l":-6e-9,"h":13e-9},{"t":728,"l":-9e-9,"h":17e-9},{"t":731,"l":-14e-9,"h":7e-9},{"t":735,"l":-7e-9,"h":11e-9},{"t":739,"l":-11e-9,"h":6e-9},{"t":743,"l":-6e-9,"h":12e-9},{"t":747,"l":-12e-9,"h":7e-9},{"t":751,"l":-7e-9,"h":10e-9},{"t":755,"l":-10e-9,"h":6e-9},{"t":759,"l":-6e-9,"h":12e-9},{"t":763,"l":-12e-9,"h":8e-9},{"t":767,"l":-8e-9,"h":13e-9},{"t":771,"l":-11e-9,"h":6e-9},{"t":775,"l":-6e-9,"h":11e-9},{"t":779,"l":-13e-9,"h":7e-9},{"t":783,"l":-7e-9,"h":12e-9},{"t":787,"l":-11e-9,"h":6e-9},{"t":791,"l":-6e-9,"h":12e-9},{"t":795,"l":-12e-9,"h":7e-9},{"t":799,"l":-7e-9,"h":11e-9},{"t":803,"l":-12e-9,"h":13e-9},{"t":805.5,"l":-18e-9,"h":15e-9},{"t":808,"l":-9e-9,"h":11e-9},{"t":812,"l":-11e-9,"h":6e-9},{"t":816,"l":-6e-9,"h":12e-9},{"t":820,"l":-12e-9,"h":7e-9},{"t":824,"l":-7e-9,"h":11e-9},{"t":828,"l":-11e-9,"h":6e-9},{"t":832,"l":-6e-9,"h":12e-9},{"t":836,"l":-12e-9,"h":8e-9},{"t":840,"l":-8e-9,"h":11e-9},{"t":844,"l":-12e-9,"h":6e-9},{"t":848,"l":-6e-9,"h":12e-9},{"t":852,"l":-11e-9,"h":7e-9},{"t":856,"l":-7e-9,"h":13e-9},{"t":860,"l":-12e-9,"h":7e-9},{"t":864,"l":-7e-9,"h":11e-9},{"t":868,"l":-11e-9,"h":6e-9},{"t":872,"l":-6e-9,"h":12e-9},{"t":876,"l":-12e-9,"h":8e-9},{"t":880,"l":-8e-9,"h":13e-9},{"t":884,"l":-11e-9,"h":6e-9},{"t":888,"l":-6e-9,"h":12e-9},{"t":892,"l":-12e-9,"h":7e-9},{"t":896,"l":-7e-9,"h":11e-9},{"t":900,"l":-13e-9,"h":6e-9},{"t":904,"l":-6e-9,"h":12e-9},{"t":908,"l":-11e-9,"h":7e-9},{"t":912,"l":-7e-9,"h":13e-9},{"t":916,"l":-12e-9,"h":6e-9},{"t":920,"l":-6e-9,"h":11e-9},{"t":924,"l":-11e-9,"h":7e-9},{"t":928,"l":-7e-9,"h":12e-9},{"t":932,"l":-12e-9,"h":6e-9},{"t":936,"l":-6e-9,"h":11e-9},{"t":940,"l":-13e-9,"h":7e-9},{"t":944,"l":-8e-9,"h":13e-9},{"t":948,"l":-11e-9,"h":6e-9},{"t":952,"l":-6e-9,"h":12e-9},{"t":956,"l":-12e-9,"h":7e-9},{"t":960,"l":-7e-9,"h":12e-9},{"t":964,"l":-13e-9,"h":8e-9},{"t":968,"l":-10e-9,"h":14e-9},{"t":970.3,"l":-12e-9,"h":19e-9},{"t":973,"l":-14e-9,"h":8e-9},{"t":977,"l":-7e-9,"h":12e-9},{"t":981,"l":-12e-9,"h":6e-9},{"t":985,"l":-6e-9,"h":12e-9},{"t":989,"l":-11e-9,"h":7e-9},{"t":993,"l":-7e-9,"h":11e-9},{"t":997,"l":-12e-9,"h":6e-9},{"t":1001,"l":-6e-9,"h":12e-9},{"t":1005,"l":-12e-9,"h":7e-9},{"t":1009,"l":-7e-9,"h":13e-9},{"t":1013,"l":-11e-9,"h":6e-9},{"t":1017,"l":-6e-9,"h":11e-9},{"t":1021,"l":-12e-9,"h":7e-9},{"t":1025,"l":-7e-9,"h":12e-9},{"t":1029,"l":-13e-9,"h":7e-9},{"t":1033,"l":-7e-9,"h":13e-9},{"t":1037,"l":-12e-9,"h":6e-9},{"t":1041,"l":-8e-9,"h":12e-9},{"t":1045,"l":-13e-9,"h":7e-9},{"t":1049,"l":-7e-9,"h":13e-9},{"t":1053,"l":-12e-9,"h":8e-9},{"t":1057,"l":-8e-9,"h":12e-9},{"t":1061,"l":-13e-9,"h":7e-9},{"t":1065,"l":-7e-9,"h":14e-9},{"t":1069,"l":-13e-9,"h":8e-9},{"t":1073,"l":-9e-9,"h":15e-9},{"t":1077,"l":-15e-9,"h":9e-9},{"t":1081,"l":-9e-9,"h":16e-9},{"t":1085,"l":-14e-9,"h":10e-9}
    ],
    "w7": [
      {"t":400,"l":-18e-9,"h":30e-9},{"t":403,"l":-28e-9,"h":17e-9},{"t":407,"l":-16e-9,"h":31e-9},{"t":410,"l":-30e-9,"h":18e-9},{"t":414,"l":-17e-9,"h":27e-9},{"t":418,"l":-32e-9,"h":16e-9},{"t":422,"l":-15e-9,"h":29e-9},{"t":425,"l":-27e-9,"h":19e-9},{"t":429,"l":-19e-9,"h":33e-9},{"t":433,"l":-31e-9,"h":16e-9},{"t":437,"l":-17e-9,"h":28e-9},{"t":441,"l":-26e-9,"h":18e-9},{"t":444,"l":-20e-9,"h":34e-9},{"t":446,"l":-38e-9,"h":26e-9},{"t":448,"l":-30e-9,"h":46e-9},{"t":450,"l":-50e-9,"h":30e-9},{"t":452,"l":-28e-9,"h":40e-9},{"t":455,"l":-36e-9,"h":22e-9},{"t":458,"l":-20e-9,"h":33e-9},{"t":461,"l":-33e-9,"h":19e-9},{"t":465,"l":-18e-9,"h":31e-9},{"t":469,"l":-30e-9,"h":17e-9},{"t":473,"l":-19e-9,"h":34e-9},{"t":477,"l":-48e-9,"h":42e-9},{"t":479,"l":-22e-9,"h":26e-9},{"t":483,"l":-28e-9,"h":18e-9},{"t":487,"l":-17e-9,"h":30e-9},{"t":491,"l":-30e-9,"h":16e-9},{"t":495,"l":-15e-9,"h":26e-9},{"t":499,"l":-24e-9,"h":14e-9},{"t":503,"l":-13e-9,"h":22e-9},{"t":507,"l":-22e-9,"h":13e-9},{"t":511,"l":-12e-9,"h":21e-9},{"t":515,"l":-21e-9,"h":14e-9},{"t":519,"l":-16e-9,"h":27e-9},{"t":523,"l":-29e-9,"h":17e-9},{"t":527,"l":-18e-9,"h":31e-9},{"t":531,"l":-31e-9,"h":19e-9},{"t":535,"l":-20e-9,"h":33e-9},{"t":539,"l":-32e-9,"h":19e-9},{"t":543,"l":-21e-9,"h":35e-9},{"t":546,"l":-36e-9,"h":22e-9},{"t":549,"l":-44e-9,"h":30e-9},{"t":552,"l":-26e-9,"h":20e-9},{"t":556,"l":-17e-9,"h":29e-9},{"t":560,"l":-28e-9,"h":16e-9},{"t":564,"l":-16e-9,"h":27e-9},{"t":568,"l":-30e-9,"h":18e-9},{"t":572,"l":-18e-9,"h":29e-9},{"t":576,"l":-27e-9,"h":16e-9},{"t":580,"l":-16e-9,"h":30e-9},{"t":584,"l":-31e-9,"h":18e-9},{"t":588,"l":-19e-9,"h":28e-9},{"t":592,"l":-26e-9,"h":16e-9},{"t":596,"l":-16e-9,"h":30e-9},{"t":600,"l":-30e-9,"h":18e-9},{"t":604,"l":-18e-9,"h":31e-9},{"t":608,"l":-29e-9,"h":17e-9},{"t":612,"l":-17e-9,"h":27e-9},{"t":616,"l":-27e-9,"h":17e-9},{"t":620,"l":-19e-9,"h":33e-9},{"t":624,"l":-31e-9,"h":18e-9},{"t":628,"l":-17e-9,"h":26e-9},{"t":632,"l":-25e-9,"h":15e-9},{"t":636,"l":-16e-9,"h":31e-9},{"t":640,"l":-30e-9,"h":18e-9},{"t":644,"l":-18e-9,"h":29e-9},{"t":648,"l":-24e-9,"h":14e-9},{"t":652,"l":-15e-9,"h":27e-9},{"t":656,"l":-29e-9,"h":18e-9},{"t":660,"l":-19e-9,"h":32e-9},{"t":664,"l":-30e-9,"h":17e-9},{"t":668,"l":-17e-9,"h":27e-9},{"t":672,"l":-27e-9,"h":16e-9},{"t":676,"l":-16e-9,"h":29e-9},{"t":680,"l":-29e-9,"h":18e-9},{"t":684,"l":-18e-9,"h":28e-9},{"t":688,"l":-27e-9,"h":17e-9},{"t":692,"l":-17e-9,"h":31e-9},{"t":696,"l":-31e-9,"h":18e-9},{"t":700,"l":-18e-9,"h":28e-9},{"t":704,"l":-26e-9,"h":16e-9},{"t":708,"l":-16e-9,"h":28e-9},{"t":712,"l":-29e-9,"h":17e-9},{"t":715,"l":-19e-9,"h":30e-9},{"t":717,"l":-32e-9,"h":38e-9},{"t":718.3,"l":-58e-9,"h":50e-9},{"t":719.5,"l":-34e-9,"h":30e-9},{"t":722,"l":-20e-9,"h":27e-9},{"t":726,"l":-28e-9,"h":17e-9},{"t":730,"l":-17e-9,"h":29e-9},{"t":734,"l":-30e-9,"h":18e-9},{"t":738,"l":-18e-9,"h":27e-9},{"t":742,"l":-26e-9,"h":16e-9},{"t":746,"l":-17e-9,"h":30e-9},{"t":750,"l":-29e-9,"h":18e-9},{"t":754,"l":-16e-9,"h":27e-9},{"t":758,"l":-27e-9,"h":16e-9},{"t":762,"l":-18e-9,"h":32e-9},{"t":766,"l":-31e-9,"h":19e-9},{"t":770,"l":-18e-9,"h":28e-9},{"t":774,"l":-25e-9,"h":15e-9},{"t":778,"l":-15e-9,"h":27e-9},{"t":782,"l":-29e-9,"h":17e-9},{"t":786,"l":-18e-9,"h":30e-9},{"t":790,"l":-28e-9,"h":17e-9},{"t":794,"l":-17e-9,"h":31e-9},{"t":798,"l":-30e-9,"h":18e-9},{"t":802,"l":-19e-9,"h":33e-9},{"t":806,"l":-29e-9,"h":18e-9},{"t":810,"l":-17e-9,"h":27e-9},{"t":814,"l":-26e-9,"h":16e-9},{"t":818,"l":-16e-9,"h":29e-9},{"t":822,"l":-30e-9,"h":18e-9},{"t":826,"l":-18e-9,"h":30e-9},{"t":830,"l":-27e-9,"h":17e-9},{"t":834,"l":-17e-9,"h":29e-9},{"t":838,"l":-32e-9,"h":19e-9},{"t":842,"l":-20e-9,"h":31e-9},{"t":846,"l":-30e-9,"h":18e-9},{"t":850,"l":-18e-9,"h":31e-9},{"t":854,"l":-28e-9,"h":16e-9},{"t":858,"l":-16e-9,"h":28e-9},{"t":862,"l":-31e-9,"h":19e-9},{"t":866,"l":-19e-9,"h":33e-9},{"t":870,"l":-29e-9,"h":18e-9},{"t":874,"l":-17e-9,"h":26e-9},{"t":878,"l":-27e-9,"h":16e-9},{"t":882,"l":-18e-9,"h":31e-9},{"t":886,"l":-31e-9,"h":19e-9},{"t":890,"l":-18e-9,"h":27e-9},{"t":894,"l":-26e-9,"h":16e-9},{"t":898,"l":-16e-9,"h":28e-9},{"t":902,"l":-30e-9,"h":18e-9},{"t":906,"l":-18e-9,"h":30e-9},{"t":910,"l":-28e-9,"h":17e-9},{"t":914,"l":-17e-9,"h":31e-9},{"t":918,"l":-29e-9,"h":18e-9},{"t":922,"l":-17e-9,"h":26e-9},{"t":926,"l":-27e-9,"h":16e-9},{"t":930,"l":-16e-9,"h":29e-9},{"t":934,"l":-30e-9,"h":18e-9},{"t":938,"l":-18e-9,"h":30e-9},{"t":942,"l":-28e-9,"h":17e-9},{"t":946,"l":-17e-9,"h":27e-9},{"t":950,"l":-27e-9,"h":16e-9},{"t":954,"l":-16e-9,"h":30e-9},{"t":958,"l":-31e-9,"h":18e-9},{"t":962,"l":-18e-9,"h":29e-9},{"t":966,"l":-28e-9,"h":17e-9},{"t":970,"l":-17e-9,"h":30e-9},{"t":974,"l":-29e-9,"h":18e-9},{"t":978,"l":-16e-9,"h":27e-9},{"t":982,"l":-26e-9,"h":16e-9},{"t":986,"l":-17e-9,"h":30e-9},{"t":990,"l":-30e-9,"h":18e-9},{"t":994,"l":-18e-9,"h":29e-9},{"t":998,"l":-28e-9,"h":17e-9},{"t":1002,"l":-18e-9,"h":32e-9},{"t":1006,"l":-33e-9,"h":18e-9},{"t":1010,"l":-19e-9,"h":34e-9},{"t":1014,"l":-34e-9,"h":20e-9},{"t":1018,"l":-19e-9,"h":30e-9},{"t":1022,"l":-27e-9,"h":16e-9},{"t":1026,"l":-16e-9,"h":28e-9},{"t":1030,"l":-29e-9,"h":17e-9},{"t":1034,"l":-17e-9,"h":27e-9},{"t":1038,"l":-29e-9,"h":18e-9},{"t":1042,"l":-18e-9,"h":30e-9},{"t":1046,"l":-27e-9,"h":16e-9},{"t":1050,"l":-16e-9,"h":28e-9},{"t":1054,"l":-27e-9,"h":16e-9},{"t":1058,"l":-17e-9,"h":30e-9},{"t":1062,"l":-30e-9,"h":18e-9},{"t":1066,"l":-18e-9,"h":29e-9},{"t":1070,"l":-29e-9,"h":17e-9},{"t":1074,"l":-17e-9,"h":31e-9},{"t":1078,"l":-30e-9,"h":18e-9},{"t":1081,"l":-18e-9,"h":32e-9},{"t":1085,"l":-28e-9,"h":17e-9}
    ],
    "w8": [
      {"t":400,"l":-15e-9,"h":14e-9},{"t":410,"l":-16e-9,"h":15e-9},{"t":420,"l":-14e-9,"h":16e-9},{"t":430,"l":-15e-9,"h":14e-9},{"t":437,"l":-16e-9,"h":15e-9},{"t":440,"l":-22e-9,"h":24e-9},{"t":443,"l":-45e-9,"h":40e-9},{"t":446,"l":-70e-9,"h":66e-9},{"t":448,"l":-78e-9,"h":74e-9},{"t":450,"l":-55e-9,"h":52e-9},{"t":453,"l":-40e-9,"h":36e-9},{"t":456,"l":-30e-9,"h":28e-9},{"t":460,"l":-24e-9,"h":22e-9},{"t":468,"l":-20e-9,"h":19e-9},{"t":476,"l":-22e-9,"h":18e-9},{"t":485,"l":-17e-9,"h":18e-9},{"t":495,"l":-15e-9,"h":16e-9},{"t":505,"l":-18e-9,"h":16e-9},{"t":515,"l":-15e-9,"h":15e-9},{"t":525,"l":-16e-9,"h":14e-9},{"t":535,"l":-14e-9,"h":16e-9},{"t":545,"l":-16e-9,"h":15e-9},{"t":555,"l":-15e-9,"h":15e-9},{"t":562,"l":-16e-9,"h":14e-9},{"t":564.6,"l":-38e-9,"h":40e-9},{"t":567,"l":-15e-9,"h":16e-9},{"t":575,"l":-16e-9,"h":15e-9},{"t":580.8,"l":-26e-9,"h":24e-9},{"t":585,"l":-15e-9,"h":16e-9},{"t":595,"l":-16e-9,"h":14e-9},{"t":605,"l":-14e-9,"h":15e-9},{"t":615,"l":-16e-9,"h":16e-9},{"t":625,"l":-15e-9,"h":14e-9},{"t":635,"l":-14e-9,"h":15e-9},{"t":645,"l":-16e-9,"h":15e-9},{"t":655,"l":-15e-9,"h":16e-9},{"t":665,"l":-14e-9,"h":14e-9},{"t":675,"l":-16e-9,"h":15e-9},{"t":685,"l":-15e-9,"h":16e-9},{"t":695,"l":-14e-9,"h":15e-9},{"t":705,"l":-16e-9,"h":14e-9},{"t":715,"l":-15e-9,"h":16e-9},{"t":725,"l":-14e-9,"h":15e-9},{"t":735,"l":-16e-9,"h":15e-9},{"t":745,"l":-15e-9,"h":14e-9},{"t":755,"l":-14e-9,"h":16e-9},{"t":765,"l":-16e-9,"h":15e-9},{"t":775,"l":-15e-9,"h":15e-9},{"t":785,"l":-14e-9,"h":14e-9},{"t":795,"l":-16e-9,"h":16e-9},{"t":805,"l":-15e-9,"h":15e-9},{"t":815,"l":-14e-9,"h":16e-9},{"t":825,"l":-16e-9,"h":14e-9},{"t":835,"l":-15e-9,"h":15e-9},{"t":845,"l":-14e-9,"h":16e-9},{"t":855,"l":-16e-9,"h":15e-9},{"t":865,"l":-15e-9,"h":14e-9},{"t":875,"l":-14e-9,"h":15e-9},{"t":885,"l":-16e-9,"h":16e-9},{"t":895,"l":-15e-9,"h":15e-9},{"t":905,"l":-14e-9,"h":16e-9},{"t":915,"l":-16e-9,"h":14e-9},{"t":925,"l":-15e-9,"h":15e-9},{"t":935,"l":-14e-9,"h":15e-9},{"t":945,"l":-16e-9,"h":16e-9},{"t":955,"l":-15e-9,"h":14e-9},{"t":965,"l":-14e-9,"h":15e-9},{"t":975,"l":-16e-9,"h":16e-9},{"t":985,"l":-15e-9,"h":15e-9},{"t":995,"l":-14e-9,"h":14e-9},{"t":1005,"l":-16e-9,"h":16e-9},{"t":1015,"l":-15e-9,"h":15e-9},{"t":1025,"l":-14e-9,"h":16e-9},{"t":1035,"l":-16e-9,"h":15e-9},{"t":1045,"l":-15e-9,"h":14e-9},{"t":1055,"l":-14e-9,"h":15e-9},{"t":1065,"l":-16e-9,"h":16e-9},{"t":1075,"l":-15e-9,"h":15e-9},{"t":1085,"l":-14e-9,"h":15e-9}
    ]
  },
  "bounds": "flush",
  "spacing": 0,
  "vconcat": [
    {
      "width": 1672, "height": 115.5,
      "resolve": {"axis": {"x": "independent", "y": "independent"}},
      "layer": [
        {"data": {"name": "w1"}, "mark": {"type": "area", "color": "#1f77b4", "clip": true},
         "encoding": {
           "x": {"field": "t", "type": "quantitative", "scale": {"domain": [400.9, 1081.4], "nice": false, "zero": false}, "axis": {"orient": "bottom", "values": [500, 600, 700, 800, 900, 1000], "labels": false, "title": null}},
           "y": {"field": "l", "type": "quantitative", "scale": {"domain": [-170, 170], "nice": false, "zero": false}, "axis": {"orient": "left", "values": [-100, 0, 100], "labelExpr": "replace(replace(replace(format(datum.value, '.1e'), 'e+', 'e+0'), 'e-', 'e-0'), '\u2212', '-')", "title": null}},
           "y2": {"field": "h"}}},
        {"data": {"name": "w1"}, "mark": {"type": "line", "color": "#1f77b4", "strokeWidth": 0.8, "clip": true},
         "encoding": {
           "x": {"field": "t", "type": "quantitative", "scale": {"domain": [400.9, 1081.4], "nice": false, "zero": false}, "axis": {"orient": "top", "values": [500, 600, 700, 800, 900, 1000], "labels": false, "title": null}},
           "y": {"field": "h", "type": "quantitative", "scale": {"domain": [-170, 170], "nice": false, "zero": false}, "axis": {"orient": "right", "values": [-100, 0, 100], "labels": false, "title": null}}}},
        {"data": {"name": "ph"}, "transform": [{"filter": "datum.st == 'R6C10'"}],
         "mark": {"type": "rule", "strokeDash": [5.5, 2.4], "strokeWidth": 2, "opacity": 0.5},
         "encoding": {
           "x": {"field": "t", "type": "quantitative", "scale": {"domain": [400.9, 1081.4], "nice": false, "zero": false}, "axis": null},
           "color": {"field": "ph", "type": "nominal", "scale": {"domain": ["P", "pP", "PP", "PcP", "ScP", "S", "PKiKP", "ScS"], "range": ["#1f77b4", "#ff7f0e", "#9467bd", "#aec7e8", "#2ca02c", "#ff9896", "#ff7f0e", "#d62728"]}, "legend": null}}},
        {"data": {"name": "ph"}, "transform": [{"filter": "datum.st == 'R6C10'"}],
         "mark": {"type": "text", "align": "right", "baseline": "alphabetic", "dx": -5, "fontSize": 16, "opacity": 0.5},
         "encoding": {
           "x": {"field": "t", "type": "quantitative", "scale": {"domain": [400.9, 1081.4], "nice": false, "zero": false}, "axis": null},
           "y": {"datum": -161.2, "type": "quantitative", "scale": {"domain": [-170, 170], "nice": false, "zero": false}, "axis": null},
           "text": {"field": "ph"},
           "color": {"field": "ph", "type": "nominal", "scale": {"domain": ["P", "pP", "PP", "PcP", "ScP", "S", "PKiKP", "ScS"], "range": ["#1f77b4", "#ff7f0e", "#9467bd", "#aec7e8", "#2ca02c", "#ff9896", "#ff7f0e", "#d62728"]}, "legend": null}}},
        {"data": {"values": [{"lab": "R6C10 39.61° Helston"}]},
         "mark": {"type": "text", "align": "left", "baseline": "middle", "fontSize": 14, "color": "black"},
         "encoding": {
           "x": {"datum": 407.7, "type": "quantitative", "scale": {"domain": [400.9, 1081.4], "nice": false, "zero": false}, "axis": null},
           "y": {"datum": 136, "type": "quantitative", "scale": {"domain": [-170, 170], "nice": false, "zero": false}, "axis": null},
           "text": {"field": "lab"}}}
      ]
    },
    {
      "width": 1672, "height": 115.5,
      "resolve": {"axis": {"x": "independent", "y": "independent"}},
      "layer": [
        {"data": {"name": "w2"}, "mark": {"type": "area", "color": "#1f77b4", "clip": true},
         "encoding": {
           "x": {"field": "t", "type": "quantitative", "scale": {"domain": [400.9, 1081.4], "nice": false, "zero": false}, "axis": {"orient": "bottom", "values": [500, 600, 700, 800, 900, 1000], "labels": false, "title": null}},
           "y": {"field": "l", "type": "quantitative", "scale": {"domain": [-1.255e-7, 1.255e-7], "nice": false, "zero": false}, "axis": {"orient": "left", "values": [-1e-7, 0, 1e-7], "labelExpr": "replace(replace(replace(format(datum.value, '.1e'), 'e+', 'e+0'), 'e-', 'e-0'), '\u2212', '-')", "title": null}},
           "y2": {"field": "h"}}},
        {"data": {"name": "w2"}, "mark": {"type": "line", "color": "#1f77b4", "strokeWidth": 0.8, "clip": true},
         "encoding": {
           "x": {"field": "t", "type": "quantitative", "scale": {"domain": [400.9, 1081.4], "nice": false, "zero": false}, "axis": {"orient": "top", "values": [500, 600, 700, 800, 900, 1000], "labels": false, "title": null}},
           "y": {"field": "h", "type": "quantitative", "scale": {"domain": [-1.255e-7, 1.255e-7], "nice": false, "zero": false}, "axis": {"orient": "right", "values": [-1e-7, 0, 1e-7], "labels": false, "title": null}}}},
        {"data": {"name": "ph"}, "transform": [{"filter": "datum.st == 'CCA1'"}],
         "mark": {"type": "rule", "strokeDash": [5.5, 2.4], "strokeWidth": 2, "opacity": 0.5},
         "encoding": {
           "x": {"field": "t", "type": "quantitative", "scale": {"domain": [400.9, 1081.4], "nice": false, "zero": false}, "axis": null},
           "color": {"field": "ph", "type": "nominal", "scale": {"domain": ["P", "pP", "PP", "PcP", "ScP", "S", "PKiKP", "ScS"], "range": ["#1f77b4", "#ff7f0e", "#9467bd", "#aec7e8", "#2ca02c", "#ff9896", "#ff7f0e", "#d62728"]}, "legend": null}}},
        {"data": {"name": "ph"}, "transform": [{"filter": "datum.st == 'CCA1'"}],
         "mark": {"type": "text", "align": "right", "baseline": "alphabetic", "dx": -5, "fontSize": 16, "opacity": 0.5},
         "encoding": {
           "x": {"field": "t", "type": "quantitative", "scale": {"domain": [400.9, 1081.4], "nice": false, "zero": false}, "axis": null},
           "y": {"datum": -1.19e-7, "type": "quantitative", "scale": {"domain": [-1.255e-7, 1.255e-7], "nice": false, "zero": false}, "axis": null},
           "text": {"field": "ph"},
           "color": {"field": "ph", "type": "nominal", "scale": {"domain": ["P", "pP", "PP", "PcP", "ScP", "S", "PKiKP", "ScS"], "range": ["#1f77b4", "#ff7f0e", "#9467bd", "#aec7e8", "#2ca02c", "#ff9896", "#ff7f0e", "#d62728"]}, "legend": null}}},
        {"data": {"values": [{"lab": "CCA1 39.59° Carnmenellis"}]},
         "mark": {"type": "text", "align": "left", "baseline": "middle", "fontSize": 14, "color": "black"},
         "encoding": {
           "x": {"datum": 407.7, "type": "quantitative", "scale": {"domain": [400.9, 1081.4], "nice": false, "zero": false}, "axis": null},
           "y": {"datum": 1.004e-7, "type": "quantitative", "scale": {"domain": [-1.255e-7, 1.255e-7], "nice": false, "zero": false}, "axis": null},
           "text": {"field": "lab"}}}
      ]
    },
    {
      "width": 1672, "height": 115.5,
      "resolve": {"axis": {"x": "independent", "y": "independent"}},
      "layer": [
        {"data": {"name": "w3"}, "mark": {"type": "area", "color": "#1f77b4", "clip": true},
         "encoding": {
           "x": {"field": "t", "type": "quantitative", "scale": {"domain": [400.9, 1081.4], "nice": false, "zero": false}, "axis": {"orient": "bottom", "values": [500, 600, 700, 800, 900, 1000], "labels": false, "title": null}},
           "y": {"field": "l", "type": "quantitative", "scale": {"domain": [-2.45e-6, 2.45e-6], "nice": false, "zero": false}, "axis": {"orient": "left", "values": [-2e-6, 0, 2e-6], "labelExpr": "replace(replace(replace(format(datum.value, '.1e'), 'e+', 'e+0'), 'e-', 'e-0'), '\u2212', '-')", "title": null}},
           "y2": {"field": "h"}}},
        {"data": {"name": "w3"}, "mark": {"type": "line", "color": "#1f77b4", "strokeWidth": 0.8, "clip": true},
         "encoding": {
           "x": {"field": "t", "type": "quantitative", "scale": {"domain": [400.9, 1081.4], "nice": false, "zero": false}, "axis": {"orient": "top", "values": [500, 600, 700, 800, 900, 1000], "labels": false, "title": null}},
           "y": {"field": "h", "type": "quantitative", "scale": {"domain": [-2.45e-6, 2.45e-6], "nice": false, "zero": false}, "axis": {"orient": "right", "values": [-2e-6, 0, 2e-6], "labels": false, "title": null}}}},
        {"data": {"name": "ph"}, "transform": [{"filter": "datum.st == 'RD232'"}],
         "mark": {"type": "rule", "strokeDash": [5.5, 2.4], "strokeWidth": 2, "opacity": 0.5},
         "encoding": {
           "x": {"field": "t", "type": "quantitative", "scale": {"domain": [400.9, 1081.4], "nice": false, "zero": false}, "axis": null},
           "color": {"field": "ph", "type": "nominal", "scale": {"domain": ["P", "pP", "PP", "PcP", "ScP", "S", "PKiKP", "ScS"], "range": ["#1f77b4", "#ff7f0e", "#9467bd", "#aec7e8", "#2ca02c", "#ff9896", "#ff7f0e", "#d62728"]}, "legend": null}}},
        {"data": {"name": "ph"}, "transform": [{"filter": "datum.st == 'RD232'"}],
         "mark": {"type": "text", "align": "right", "baseline": "alphabetic", "dx": -5, "fontSize": 16, "opacity": 0.5},
         "encoding": {
           "x": {"field": "t", "type": "quantitative", "scale": {"domain": [400.9, 1081.4], "nice": false, "zero": false}, "axis": null},
           "y": {"datum": -2.323e-6, "type": "quantitative", "scale": {"domain": [-2.45e-6, 2.45e-6], "nice": false, "zero": false}, "axis": null},
           "text": {"field": "ph"},
           "color": {"field": "ph", "type": "nominal", "scale": {"domain": ["P", "pP", "PP", "PcP", "ScP", "S", "PKiKP", "ScS"], "range": ["#1f77b4", "#ff7f0e", "#9467bd", "#aec7e8", "#2ca02c", "#ff9896", "#ff7f0e", "#d62728"]}, "legend": null}}},
        {"data": {"values": [{"lab": "RD232 39.48° Newquay"}]},
         "mark": {"type": "text", "align": "left", "baseline": "middle", "fontSize": 14, "color": "black"},
         "encoding": {
           "x": {"datum": 407.7, "type": "quantitative", "scale": {"domain": [400.9, 1081.4], "nice": false, "zero": false}, "axis": null},
           "y": {"datum": 1.96e-6, "type": "quantitative", "scale": {"domain": [-2.45e-6, 2.45e-6], "nice": false, "zero": false}, "axis": null},
           "text": {"field": "lab"}}}
      ]
    },
    {
      "width": 1672, "height": 115.5,
      "resolve": {"axis": {"x": "independent", "y": "independent"}},
      "layer": [
        {"data": {"name": "w4"}, "mark": {"type": "area", "color": "#1f77b4", "clip": true},
         "encoding": {
           "x": {"field": "t", "type": "quantitative", "scale": {"domain": [400.9, 1081.4], "nice": false, "zero": false}, "axis": {"orient": "bottom", "values": [500, 600, 700, 800, 900, 1000], "labels": false, "title": null}},
           "y": {"field": "l", "type": "quantitative", "scale": {"domain": [-1.32e-6, 1.32e-6], "nice": false, "zero": false}, "axis": {"orient": "left", "values": [-1e-6, 0, 1e-6], "labelExpr": "replace(replace(replace(format(datum.value, '.1e'), 'e+', 'e+0'), 'e-', 'e-0'), '\u2212', '-')", "title": "Velocity [m/s]", "titleX": -132.3, "titleY": 115.5, "titleAngle": -90, "titleAlign": "center", "titleBaseline": "middle"}},
           "y2": {"field": "h"}}},
        {"data": {"name": "w4"}, "mark": {"type": "line", "color": "#1f77b4", "strokeWidth": 0.8, "clip": true},
         "encoding": {
           "x": {"field": "t", "type": "quantitative", "scale": {"domain": [400.9, 1081.4], "nice": false, "zero": false}, "axis": {"orient": "top", "values": [500, 600, 700, 800, 900, 1000], "labels": false, "title": null}},
           "y": {"field": "h", "type": "quantitative", "scale": {"domain": [-1.32e-6, 1.32e-6], "nice": false, "zero": false}, "axis": {"orient": "right", "values": [-1e-6, 0, 1e-6], "labels": false, "title": null}}}},
        {"data": {"name": "ph"}, "transform": [{"filter": "datum.st == 'R7FA5'"}],
         "mark": {"type": "rule", "strokeDash": [5.5, 2.4], "strokeWidth": 2, "opacity": 0.5},
         "encoding": {
           "x": {"field": "t", "type": "quantitative", "scale": {"domain": [400.9, 1081.4], "nice": false, "zero": false}, "axis": null},
           "color": {"field": "ph", "type": "nominal", "scale": {"domain": ["P", "pP", "PP", "PcP", "ScP", "S", "PKiKP", "ScS"], "range": ["#1f77b4", "#ff7f0e", "#9467bd", "#aec7e8", "#2ca02c", "#ff9896", "#ff7f0e", "#d62728"]}, "legend": null}}},
        {"data": {"name": "ph"}, "transform": [{"filter": "datum.st == 'R7FA5'"}],
         "mark": {"type": "text", "align": "right", "baseline": "alphabetic", "dx": -5, "fontSize": 16, "opacity": 0.5},
         "encoding": {
           "x": {"field": "t", "type": "quantitative", "scale": {"domain": [400.9, 1081.4], "nice": false, "zero": false}, "axis": null},
           "y": {"datum": -1.251e-6, "type": "quantitative", "scale": {"domain": [-1.32e-6, 1.32e-6], "nice": false, "zero": false}, "axis": null},
           "text": {"field": "ph"},
           "color": {"field": "ph", "type": "nominal", "scale": {"domain": ["P", "pP", "PP", "PcP", "ScP", "S", "PKiKP", "ScS"], "range": ["#1f77b4", "#ff7f0e", "#9467bd", "#aec7e8", "#2ca02c", "#ff9896", "#ff7f0e", "#d62728"]}, "legend": null}}},
        {"data": {"values": [{"lab": "R7FA5 39.47° Truro School"}]},
         "mark": {"type": "text", "align": "left", "baseline": "middle", "fontSize": 14, "color": "black"},
         "encoding": {
           "x": {"datum": 407.7, "type": "quantitative", "scale": {"domain": [400.9, 1081.4], "nice": false, "zero": false}, "axis": null},
           "y": {"datum": 1.056e-6, "type": "quantitative", "scale": {"domain": [-1.32e-6, 1.32e-6], "nice": false, "zero": false}, "axis": null},
           "text": {"field": "lab"}}}
      ]
    },
    {
      "width": 1672, "height": 115.5,
      "resolve": {"axis": {"x": "independent", "y": "independent"}},
      "layer": [
        {"data": {"name": "w5"}, "mark": {"type": "area", "color": "#1f77b4", "clip": true},
         "encoding": {
           "x": {"field": "t", "type": "quantitative", "scale": {"domain": [400.9, 1081.4], "nice": false, "zero": false}, "axis": {"orient": "bottom", "values": [500, 600, 700, 800, 900, 1000], "labels": false, "title": null}},
           "y": {"field": "l", "type": "quantitative", "scale": {"domain": [-5.9e-7, 5.9e-7], "nice": false, "zero": false}, "axis": {"orient": "left", "values": [-5e-7, 0, 5e-7], "labelExpr": "replace(replace(replace(format(datum.value, '.1e'), 'e+', 'e+0'), 'e-', 'e-0'), '\u2212', '-')", "title": null}},
           "y2": {"field": "h"}}},
        {"data": {"name": "w5"}, "mark": {"type": "line", "color": "#1f77b4", "strokeWidth": 0.8, "clip": true},
         "encoding": {
           "x": {"field": "t", "type": "quantitative", "scale": {"domain": [400.9, 1081.4], "nice": false, "zero": false}, "axis": {"orient": "top", "values": [500, 600, 700, 800, 900, 1000], "labels": false, "title": null}},
           "y": {"field": "h", "type": "quantitative", "scale": {"domain": [-5.9e-7, 5.9e-7], "nice": false, "zero": false}, "axis": {"orient": "right", "values": [-5e-7, 0, 5e-7], "labels": false, "title": null}}}},
        {"data": {"name": "ph"}, "transform": [{"filter": "datum.st == 'R0353'"}],
         "mark": {"type": "rule", "strokeDash": [5.5, 2.4], "strokeWidth": 2, "opacity": 0.5},
         "encoding": {
           "x": {"field": "t", "type": "quantitative", "scale": {"domain": [400.9, 1081.4], "nice": false, "zero": false}, "axis": null},
           "color": {"field": "ph", "type": "nominal", "scale": {"domain": ["P", "pP", "PP", "PcP", "ScP", "S", "PKiKP", "ScS"], "range": ["#1f77b4", "#ff7f0e", "#9467bd", "#aec7e8", "#2ca02c", "#ff9896", "#ff7f0e", "#d62728"]}, "legend": null}}},
        {"data": {"name": "ph"}, "transform": [{"filter": "datum.st == 'R0353'"}],
         "mark": {"type": "text", "align": "right", "baseline": "alphabetic", "dx": -5, "fontSize": 16, "opacity": 0.5},
         "encoding": {
           "x": {"field": "t", "type": "quantitative", "scale": {"domain": [400.9, 1081.4], "nice": false, "zero": false}, "axis": null},
           "y": {"datum": -5.593e-7, "type": "quantitative", "scale": {"domain": [-5.9e-7, 5.9e-7], "nice": false, "zero": false}, "axis": null},
           "text": {"field": "ph"},
           "color": {"field": "ph", "type": "nominal", "scale": {"domain": ["P", "pP", "PP", "PcP", "ScP", "S", "PKiKP", "ScS"], "range": ["#1f77b4", "#ff7f0e", "#9467bd", "#aec7e8", "#2ca02c", "#ff9896", "#ff7f0e", "#d62728"]}, "legend": null}}},
        {"data": {"values": [{"lab": "R0353 39.46° Penair"}]},
         "mark": {"type": "text", "align": "left", "baseline": "middle", "fontSize": 14, "color": "black"},
         "encoding": {
           "x": {"datum": 407.7, "type": "quantitative", "scale": {"domain": [400.9, 1081.4], "nice": false, "zero": false}, "axis": null},
           "y": {"datum": 4.72e-7, "type": "quantitative", "scale": {"domain": [-5.9e-7, 5.9e-7], "nice": false, "zero": false}, "axis": null},
           "text": {"field": "lab"}}}
      ]
    },
    {
      "width": 1672, "height": 115.5,
      "resolve": {"axis": {"x": "independent", "y": "independent"}},
      "layer": [
        {"data": {"name": "w6"}, "mark": {"type": "area", "color": "#1f77b4", "clip": true},
         "encoding": {
           "x": {"field": "t", "type": "quantitative", "scale": {"domain": [400.9, 1081.4], "nice": false, "zero": false}, "axis": {"orient": "bottom", "values": [500, 600, 700, 800, 900, 1000], "labels": false, "title": null}},
           "y": {"field": "l", "type": "quantitative", "scale": {"domain": [-4.47e-8, 4.47e-8], "nice": false, "zero": false}, "axis": {"orient": "left", "values": [-2.5e-8, 0, 2.5e-8], "labelExpr": "replace(replace(replace(format(datum.value, '.1e'), 'e+', 'e+0'), 'e-', 'e-0'), '\u2212', '-')", "title": null}},
           "y2": {"field": "h"}}},
        {"data": {"name": "w6"}, "mark": {"type": "line", "color": "#1f77b4", "strokeWidth": 0.8, "clip": true},
         "encoding": {
           "x": {"field": "t", "type": "quantitative", "scale": {"domain": [400.9, 1081.4], "nice": false, "zero": false}, "axis": {"orient": "top", "values": [500, 600, 700, 800, 900, 1000], "labels": false, "title": null}},
           "y": {"field": "h", "type": "quantitative", "scale": {"domain": [-4.47e-8, 4.47e-8], "nice": false, "zero": false}, "axis": {"orient": "right", "values": [-2.5e-8, 0, 2.5e-8], "labels": false, "title": null}}}},
        {"data": {"name": "ph"}, "transform": [{"filter": "datum.st == 'HTL'"}],
         "mark": {"type": "rule", "strokeDash": [5.5, 2.4], "strokeWidth": 2, "opacity": 0.5},
         "encoding": {
           "x": {"field": "t", "type": "quantitative", "scale": {"domain": [400.9, 1081.4], "nice": false, "zero": false}, "axis": null},
           "color": {"field": "ph", "type": "nominal", "scale": {"domain": ["P", "pP", "PP", "PcP", "ScP", "S", "PKiKP", "ScS"], "range": ["#1f77b4", "#ff7f0e", "#9467bd", "#aec7e8", "#2ca02c", "#ff9896", "#ff7f0e", "#d62728"]}, "legend": null}}},
        {"data": {"name": "ph"}, "transform": [{"filter": "datum.st == 'HTL'"}],
         "mark": {"type": "text", "align": "right", "baseline": "alphabetic", "dx": -5, "fontSize": 16, "opacity": 0.5},
         "encoding": {
           "x": {"field": "t", "type": "quantitative", "scale": {"domain": [400.9, 1081.4], "nice": false, "zero": false}, "axis": null},
           "y": {"datum": -4.238e-8, "type": "quantitative", "scale": {"domain": [-4.47e-8, 4.47e-8], "nice": false, "zero": false}, "axis": null},
           "text": {"field": "ph"},
           "color": {"field": "ph", "type": "nominal", "scale": {"domain": ["P", "pP", "PP", "PcP", "ScP", "S", "PKiKP", "ScS"], "range": ["#1f77b4", "#ff7f0e", "#9467bd", "#aec7e8", "#2ca02c", "#ff9896", "#ff7f0e", "#d62728"]}, "legend": null}}},
        {"data": {"values": [{"lab": "HTL 39.16° Hartland"}]},
         "mark": {"type": "text", "align": "left", "baseline": "middle", "fontSize": 14, "color": "black"},
         "encoding": {
           "x": {"datum": 407.7, "type": "quantitative", "scale": {"domain": [400.9, 1081.4], "nice": false, "zero": false}, "axis": null},
           "y": {"datum": 3.576e-8, "type": "quantitative", "scale": {"domain": [-4.47e-8, 4.47e-8], "nice": false, "zero": false}, "axis": null},
           "text": {"field": "lab"}}}
      ]
    },
    {
      "width": 1672, "height": 115.5,
      "resolve": {"axis": {"x": "independent", "y": "independent"}},
      "layer": [
        {"data": {"name": "w7"}, "mark": {"type": "area", "color": "#1f77b4", "clip": true},
         "encoding": {
           "x": {"field": "t", "type": "quantitative", "scale": {"domain": [400.9, 1081.4], "nice": false, "zero": false}, "axis": {"orient": "bottom", "values": [500, 600, 700, 800, 900, 1000], "labels": false, "title": null}},
           "y": {"field": "l", "type": "quantitative", "scale": {"domain": [-7.44e-8, 7.44e-8], "nice": false, "zero": false}, "axis": {"orient": "left", "values": [-5e-8, 0, 5e-8], "labelExpr": "replace(replace(replace(format(datum.value, '.1e'), 'e+', 'e+0'), 'e-', 'e-0'), '\u2212', '-')", "title": null}},
           "y2": {"field": "h"}}},
        {"data": {"name": "w7"}, "mark": {"type": "line", "color": "#1f77b4", "strokeWidth": 0.8, "clip": true},
         "encoding": {
           "x": {"field": "t", "type": "quantitative", "scale": {"domain": [400.9, 1081.4], "nice": false, "zero": false}, "axis": {"orient": "top", "values": [500, 600, 700, 800, 900, 1000], "labels": false, "title": null}},
           "y": {"field": "h", "type": "quantitative", "scale": {"domain": [-7.44e-8, 7.44e-8], "nice": false, "zero": false}, "axis": {"orient": "right", "values": [-5e-8, 0, 5e-8], "labels": false, "title": null}}}},
        {"data": {"name": "ph"}, "transform": [{"filter": "datum.st == 'DYA'"}],
         "mark": {"type": "rule", "strokeDash": [5.5, 2.4], "strokeWidth": 2, "opacity": 0.5},
         "encoding": {
           "x": {"field": "t", "type": "quantitative", "scale": {"domain": [400.9, 1081.4], "nice": false, "zero": false}, "axis": null},
           "color": {"field": "ph", "type": "nominal", "scale": {"domain": ["P", "pP", "PP", "PcP", "ScP", "S", "PKiKP", "ScS"], "range": ["#1f77b4", "#ff7f0e", "#9467bd", "#aec7e8", "#2ca02c", "#ff9896", "#ff7f0e", "#d62728"]}, "legend": null}}},
        {"data": {"name": "ph"}, "transform": [{"filter": "datum.st == 'DYA'"}],
         "mark": {"type": "text", "align": "right", "baseline": "alphabetic", "dx": -5, "fontSize": 16, "opacity": 0.5},
         "encoding": {
           "x": {"field": "t", "type": "quantitative", "scale": {"domain": [400.9, 1081.4], "nice": false, "zero": false}, "axis": null},
           "y": {"datum": -7.053e-8, "type": "quantitative", "scale": {"domain": [-7.44e-8, 7.44e-8], "nice": false, "zero": false}, "axis": null},
           "text": {"field": "ph"},
           "color": {"field": "ph", "type": "nominal", "scale": {"domain": ["P", "pP", "PP", "PcP", "ScP", "S", "PKiKP", "ScS"], "range": ["#1f77b4", "#ff7f0e", "#9467bd", "#aec7e8", "#2ca02c", "#ff9896", "#ff7f0e", "#d62728"]}, "legend": null}}},
        {"data": {"values": [{"lab": "DYA 38.77° Yadsworthy"}]},
         "mark": {"type": "text", "align": "left", "baseline": "middle", "fontSize": 14, "color": "black"},
         "encoding": {
           "x": {"datum": 407.7, "type": "quantitative", "scale": {"domain": [400.9, 1081.4], "nice": false, "zero": false}, "axis": null},
           "y": {"datum": 5.952e-8, "type": "quantitative", "scale": {"domain": [-7.44e-8, 7.44e-8], "nice": false, "zero": false}, "axis": null},
           "text": {"field": "lab"}}}
      ]
    },
    {
      "width": 1672, "height": 115.5,
      "resolve": {"axis": {"x": "independent", "y": "independent"}},
      "layer": [
        {"data": {"name": "w8"}, "mark": {"type": "area", "color": "#1f77b4", "clip": true},
         "encoding": {
           "x": {"field": "t", "type": "quantitative", "scale": {"domain": [400.9, 1081.4], "nice": false, "zero": false}, "axis": {"orient": "bottom", "values": [500, 600, 700, 800, 900, 1000], "format": "d", "labels": true, "title": "Time since earthquake [s]", "titleX": 797.7, "titleY": 69.7, "titleAlign": "center", "titleBaseline": "middle"}},
           "y": {"field": "l", "type": "quantitative", "scale": {"domain": [-6.53e-7, 6.53e-7], "nice": false, "zero": false}, "axis": {"orient": "left", "values": [-5e-7, 0, 5e-7], "labelExpr": "replace(replace(replace(format(datum.value, '.1e'), 'e+', 'e+0'), 'e-', 'e-0'), '\u2212', '-')", "title": "Channel: EHZ, filter: \"bandpass\", freqmin=1.3, freqmax=3.0, corners=4", "titleX": -133.3, "titleY": 184.7, "titleAngle": 0, "titleAlign": "left", "titleBaseline": "middle"}},
           "y2": {"field": "h"}}},
        {"data": {"name": "w8"}, "mark": {"type": "line", "color": "#1f77b4", "strokeWidth": 0.8, "clip": true},
         "encoding": {
           "x": {"field": "t", "type": "quantitative", "scale": {"domain": [400.9, 1081.4], "nice": false, "zero": false}, "axis": {"orient": "top", "values": [500, 600, 700, 800, 900, 1000], "labels": false, "title": null}},
           "y": {"field": "h", "type": "quantitative", "scale": {"domain": [-6.53e-7, 6.53e-7], "nice": false, "zero": false}, "axis": {"orient": "right", "values": [-5e-7, 0, 5e-7], "labels": false, "title": null}}}},
        {"data": {"name": "ph"}, "transform": [{"filter": "datum.st == 'RD4BA'"}],
         "mark": {"type": "rule", "strokeDash": [5.5, 2.4], "strokeWidth": 2, "opacity": 0.5},
         "encoding": {
           "x": {"field": "t", "type": "quantitative", "scale": {"domain": [400.9, 1081.4], "nice": false, "zero": false}, "axis": null},
           "color": {"field": "ph", "type": "nominal", "scale": {"domain": ["P", "pP", "PP", "PcP", "ScP", "S", "PKiKP", "ScS"], "range": ["#1f77b4", "#ff7f0e", "#9467bd", "#aec7e8", "#2ca02c", "#ff9896", "#ff7f0e", "#d62728"]}, "legend": null}}},
        {"data": {"name": "ph"}, "transform": [{"filter": "datum.st == 'RD4BA'"}],
         "mark": {"type": "text", "align": "right", "baseline": "alphabetic", "dx": -5, "fontSize": 16, "opacity": 0.5},
         "encoding": {
           "x": {"field": "t", "type": "quantitative", "scale": {"domain": [400.9, 1081.4], "nice": false, "zero": false}, "axis": null},
           "y": {"datum": -6.19e-7, "type": "quantitative", "scale": {"domain": [-6.53e-7, 6.53e-7], "nice": false, "zero": false}, "axis": null},
           "text": {"field": "ph"},
           "color": {"field": "ph", "type": "nominal", "scale": {"domain": ["P", "pP", "PP", "PcP", "ScP", "S", "PKiKP", "ScS"], "range": ["#1f77b4", "#ff7f0e", "#9467bd", "#aec7e8", "#2ca02c", "#ff9896", "#ff7f0e", "#d62728"]}, "legend": null}}},
        {"data": {"values": [{"lab": "RD4BA 37.9° Vannes"}]},
         "mark": {"type": "text", "align": "left", "baseline": "middle", "fontSize": 14, "color": "black"},
         "encoding": {
           "x": {"datum": 407.7, "type": "quantitative", "scale": {"domain": [400.9, 1081.4], "nice": false, "zero": false}, "axis": null},
           "y": {"datum": 5.224e-7, "type": "quantitative", "scale": {"domain": [-6.53e-7, 6.53e-7], "nice": false, "zero": false}, "axis": null},
           "text": {"field": "lab"}}}
      ]
    }
  ]
}
